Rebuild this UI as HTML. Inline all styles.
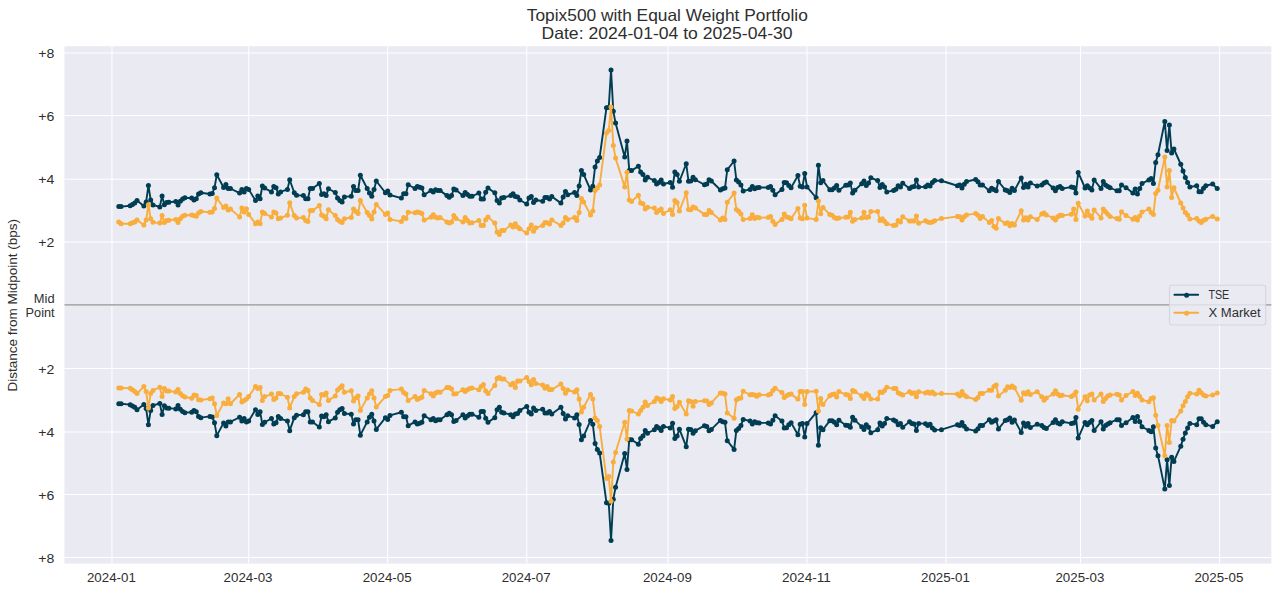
<!DOCTYPE html>
<html lang="en"><head><meta charset="utf-8"><title>Topix500 with Equal Weight Portfolio</title>
<style>html,body{margin:0;padding:0;background:#fff;overflow:hidden}svg{display:block}text{font-family:"Liberation Sans",sans-serif;fill:#2e2e2e}</style></head><body>
<svg width="1280" height="593" viewBox="0 0 1280 593">
<rect x="0" y="0" width="1280" height="593" fill="#ffffff"/>
<rect x="64.50" y="46.20" width="1206.80" height="517.40" fill="#eaeaf2"/>
<g stroke="#ffffff" stroke-width="1.05" fill="none">
<line x1="111.95" y1="46.20" x2="111.95" y2="563.60"/>
<line x1="248.68" y1="46.20" x2="248.68" y2="563.60"/>
<line x1="387.70" y1="46.20" x2="387.70" y2="563.60"/>
<line x1="526.71" y1="46.20" x2="526.71" y2="563.60"/>
<line x1="668.00" y1="46.20" x2="668.00" y2="563.60"/>
<line x1="807.02" y1="46.20" x2="807.02" y2="563.60"/>
<line x1="946.03" y1="46.20" x2="946.03" y2="563.60"/>
<line x1="1080.49" y1="46.20" x2="1080.49" y2="563.60"/>
<line x1="1219.50" y1="46.20" x2="1219.50" y2="563.60"/>
<line x1="64.50" y1="557.50" x2="1271.30" y2="557.50"/>
<line x1="64.50" y1="494.50" x2="1271.30" y2="494.50"/>
<line x1="64.50" y1="432.00" x2="1271.30" y2="432.00"/>
<line x1="64.50" y1="368.40" x2="1271.30" y2="368.40"/>
<line x1="64.50" y1="305.20" x2="1271.30" y2="305.20"/>
<line x1="64.50" y1="242.00" x2="1271.30" y2="242.00"/>
<line x1="64.50" y1="179.20" x2="1271.30" y2="179.20"/>
<line x1="64.50" y1="115.50" x2="1271.30" y2="115.50"/>
<line x1="64.50" y1="52.90" x2="1271.30" y2="52.90"/>
</g>
<line x1="64.50" y1="304.90" x2="1271.30" y2="304.90" stroke="#acacae" stroke-width="1.6"/>
<svg x="64.50" y="46.20" width="1206.80" height="517.40" viewBox="64.50 46.20 1206.80 517.40">
<path d="M118.79 206.62 L121.07 206.62 L130.18 205.75 L132.46 204.38 L134.74 203.12 L137.02 200.62 L143.85 205.88 L146.13 201.88 L148.41 185.62 L150.69 200.00 L152.97 205.00 L159.81 206.88 L162.09 196.00 L164.36 204.75 L166.64 202.50 L168.92 202.25 L175.76 201.50 L178.04 205.00 L180.32 201.25 L182.60 199.00 L184.88 197.75 L191.71 198.12 L193.99 200.00 L196.27 198.75 L198.55 194.00 L200.83 192.75 L209.94 194.00 L212.22 193.50 L214.50 187.75 L216.78 174.75 L223.62 187.50 L225.90 184.38 L228.17 188.50 L230.45 188.50 L239.57 193.12 L241.85 189.38 L244.13 191.88 L246.41 188.50 L248.68 189.38 L255.52 200.62 L257.80 196.00 L260.08 198.75 L262.36 186.00 L264.64 188.12 L271.47 191.88 L273.75 186.50 L276.03 187.75 L278.31 194.00 L280.59 191.88 L287.43 189.38 L289.70 179.75 L294.26 192.75 L296.54 195.25 L303.38 195.62 L305.66 198.75 L307.94 198.75 L310.22 188.50 L312.49 188.50 L319.33 183.50 L321.61 194.38 L323.89 193.75 L326.17 195.62 L328.45 188.75 L335.28 192.50 L337.56 198.12 L339.84 200.62 L342.12 201.88 L344.40 196.88 L351.24 196.25 L353.51 186.50 L355.79 190.62 L358.07 190.62 L360.35 175.25 L367.19 188.50 L369.47 193.12 L371.75 196.25 L374.02 189.38 L376.30 181.00 L385.42 192.75 L387.70 191.00 L389.98 195.00 L401.37 198.12 L403.65 193.75 L405.93 193.75 L408.21 184.75 L415.04 188.50 L417.32 186.50 L419.60 187.25 L421.88 188.12 L424.16 194.75 L431.00 190.62 L433.28 191.88 L435.56 189.75 L437.83 190.62 L440.11 190.62 L446.95 195.62 L449.23 197.25 L451.51 195.62 L453.79 189.00 L456.07 190.00 L462.90 195.62 L465.18 192.50 L467.46 194.38 L469.74 196.25 L472.02 196.25 L478.85 193.12 L481.13 199.00 L483.41 199.00 L485.69 192.25 L487.97 188.12 L494.81 192.75 L497.09 200.62 L499.36 203.12 L501.64 198.12 L503.92 197.50 L510.76 195.62 L513.04 193.75 L515.32 196.50 L517.60 196.88 L519.87 200.00 L526.71 204.00 L528.99 198.12 L531.27 196.50 L533.55 202.50 L535.83 200.00 L542.66 201.25 L544.94 197.50 L547.22 197.50 L549.50 199.00 L551.78 196.50 L560.90 203.12 L563.17 196.88 L565.45 191.50 L567.73 194.75 L574.57 192.50 L576.85 195.62 L579.13 186.00 L581.41 170.62 L583.68 174.38 L590.52 190.00 L592.80 186.25 L595.08 166.88 L597.36 161.00 L599.64 157.50 L606.47 107.75 L608.75 107.25 L611.03 70.00 L613.31 111.25 L615.59 123.12 L624.70 156.88 L626.98 141.00 L629.26 170.62 L631.54 170.62 L638.38 166.25 L640.66 171.88 L642.94 174.38 L645.21 180.00 L647.49 177.25 L654.33 180.62 L656.61 184.00 L658.89 182.50 L661.17 180.00 L663.45 184.00 L670.28 182.50 L672.56 187.25 L674.84 171.88 L677.12 174.38 L679.40 181.25 L686.24 163.75 L688.51 181.25 L690.79 181.00 L693.07 177.25 L695.35 179.75 L704.47 184.75 L706.75 184.00 L709.02 179.75 L711.30 181.00 L720.42 190.00 L722.70 188.75 L724.98 188.12 L727.26 169.75 L734.09 161.00 L736.37 180.00 L738.65 181.88 L740.93 185.00 L743.21 191.00 L750.04 189.38 L752.32 186.50 L754.60 188.75 L756.88 187.75 L759.16 187.50 L768.28 187.50 L770.55 186.50 L772.83 190.25 L775.11 194.75 L781.95 189.38 L784.23 182.50 L786.51 182.75 L788.79 185.62 L791.07 187.75 L797.90 175.62 L800.18 186.25 L802.46 186.88 L804.74 173.50 L807.02 186.88 L816.13 197.75 L818.41 165.25 L820.69 182.75 L822.97 180.62 L829.81 189.75 L832.09 189.75 L834.36 188.12 L836.64 185.62 L838.92 190.25 L845.76 185.25 L848.04 185.00 L850.32 183.12 L852.60 193.12 L854.87 190.25 L861.71 183.75 L863.99 181.00 L866.27 185.62 L868.55 183.12 L870.83 177.75 L877.66 180.62 L879.94 187.50 L882.22 184.38 L884.50 186.88 L886.78 191.88 L893.62 190.50 L895.89 189.25 L898.17 185.75 L900.45 187.00 L902.73 183.25 L909.57 188.62 L911.85 187.00 L914.13 186.50 L916.41 179.88 L918.68 187.00 L925.52 186.75 L927.80 184.88 L930.08 186.12 L932.36 182.38 L934.64 180.50 L941.47 180.75 L957.43 185.75 L959.70 184.88 L961.98 188.00 L964.26 184.25 L966.54 181.50 L975.66 179.50 L977.94 181.75 L980.21 184.88 L982.49 184.88 L989.33 190.75 L991.61 188.25 L993.89 189.50 L996.17 190.75 L998.45 181.50 L1005.28 189.88 L1007.56 190.75 L1009.84 192.38 L1012.12 188.25 L1014.40 190.50 L1021.23 178.00 L1023.51 187.38 L1025.79 184.25 L1028.07 187.00 L1030.35 183.00 L1037.19 186.12 L1041.75 184.88 L1044.02 183.00 L1046.30 182.00 L1053.14 188.00 L1055.42 190.75 L1057.70 187.38 L1059.98 186.50 L1062.26 188.62 L1071.37 187.00 L1073.65 187.38 L1075.93 193.00 L1078.21 172.38 L1085.04 188.00 L1087.32 185.75 L1089.60 188.00 L1091.88 189.88 L1094.16 179.88 L1101.00 188.62 L1103.28 181.50 L1105.55 184.88 L1107.83 186.50 L1110.11 187.75 L1116.95 190.75 L1119.23 190.75 L1121.51 184.88 L1126.06 187.75 L1132.90 193.00 L1135.18 189.00 L1137.46 194.00 L1139.74 188.62 L1142.02 183.62 L1148.85 179.88 L1151.13 178.62 L1153.41 183.62 L1155.69 162.38 L1157.97 154.75 L1164.81 121.50 L1167.09 150.62 L1169.36 125.00 L1171.64 153.12 L1173.92 149.00 L1180.76 164.25 L1183.04 171.12 L1185.32 177.38 L1187.60 182.38 L1189.87 187.00 L1196.71 185.75 L1198.99 191.75 L1201.27 191.75 L1203.55 188.25 L1205.83 185.75 L1212.66 184.00 L1217.22 188.62" fill="none" stroke="#003d52" stroke-width="1.9" stroke-linejoin="round" stroke-linecap="round"/>
<g fill="#003d52"><circle cx="118.79" cy="206.62" r="2.5"/><circle cx="121.07" cy="206.62" r="2.5"/><circle cx="130.18" cy="205.75" r="2.5"/><circle cx="132.46" cy="204.38" r="2.5"/><circle cx="134.74" cy="203.12" r="2.5"/><circle cx="137.02" cy="200.62" r="2.5"/><circle cx="143.85" cy="205.88" r="2.5"/><circle cx="146.13" cy="201.88" r="2.5"/><circle cx="148.41" cy="185.62" r="2.5"/><circle cx="150.69" cy="200.00" r="2.5"/><circle cx="152.97" cy="205.00" r="2.5"/><circle cx="159.81" cy="206.88" r="2.5"/><circle cx="162.09" cy="196.00" r="2.5"/><circle cx="164.36" cy="204.75" r="2.5"/><circle cx="166.64" cy="202.50" r="2.5"/><circle cx="168.92" cy="202.25" r="2.5"/><circle cx="175.76" cy="201.50" r="2.5"/><circle cx="178.04" cy="205.00" r="2.5"/><circle cx="180.32" cy="201.25" r="2.5"/><circle cx="182.60" cy="199.00" r="2.5"/><circle cx="184.88" cy="197.75" r="2.5"/><circle cx="191.71" cy="198.12" r="2.5"/><circle cx="193.99" cy="200.00" r="2.5"/><circle cx="196.27" cy="198.75" r="2.5"/><circle cx="198.55" cy="194.00" r="2.5"/><circle cx="200.83" cy="192.75" r="2.5"/><circle cx="209.94" cy="194.00" r="2.5"/><circle cx="212.22" cy="193.50" r="2.5"/><circle cx="214.50" cy="187.75" r="2.5"/><circle cx="216.78" cy="174.75" r="2.5"/><circle cx="223.62" cy="187.50" r="2.5"/><circle cx="225.90" cy="184.38" r="2.5"/><circle cx="228.17" cy="188.50" r="2.5"/><circle cx="230.45" cy="188.50" r="2.5"/><circle cx="239.57" cy="193.12" r="2.5"/><circle cx="241.85" cy="189.38" r="2.5"/><circle cx="244.13" cy="191.88" r="2.5"/><circle cx="246.41" cy="188.50" r="2.5"/><circle cx="248.68" cy="189.38" r="2.5"/><circle cx="255.52" cy="200.62" r="2.5"/><circle cx="257.80" cy="196.00" r="2.5"/><circle cx="260.08" cy="198.75" r="2.5"/><circle cx="262.36" cy="186.00" r="2.5"/><circle cx="264.64" cy="188.12" r="2.5"/><circle cx="271.47" cy="191.88" r="2.5"/><circle cx="273.75" cy="186.50" r="2.5"/><circle cx="276.03" cy="187.75" r="2.5"/><circle cx="278.31" cy="194.00" r="2.5"/><circle cx="280.59" cy="191.88" r="2.5"/><circle cx="287.43" cy="189.38" r="2.5"/><circle cx="289.70" cy="179.75" r="2.5"/><circle cx="294.26" cy="192.75" r="2.5"/><circle cx="296.54" cy="195.25" r="2.5"/><circle cx="303.38" cy="195.62" r="2.5"/><circle cx="305.66" cy="198.75" r="2.5"/><circle cx="307.94" cy="198.75" r="2.5"/><circle cx="310.22" cy="188.50" r="2.5"/><circle cx="312.49" cy="188.50" r="2.5"/><circle cx="319.33" cy="183.50" r="2.5"/><circle cx="321.61" cy="194.38" r="2.5"/><circle cx="323.89" cy="193.75" r="2.5"/><circle cx="326.17" cy="195.62" r="2.5"/><circle cx="328.45" cy="188.75" r="2.5"/><circle cx="335.28" cy="192.50" r="2.5"/><circle cx="337.56" cy="198.12" r="2.5"/><circle cx="339.84" cy="200.62" r="2.5"/><circle cx="342.12" cy="201.88" r="2.5"/><circle cx="344.40" cy="196.88" r="2.5"/><circle cx="351.24" cy="196.25" r="2.5"/><circle cx="353.51" cy="186.50" r="2.5"/><circle cx="355.79" cy="190.62" r="2.5"/><circle cx="358.07" cy="190.62" r="2.5"/><circle cx="360.35" cy="175.25" r="2.5"/><circle cx="367.19" cy="188.50" r="2.5"/><circle cx="369.47" cy="193.12" r="2.5"/><circle cx="371.75" cy="196.25" r="2.5"/><circle cx="374.02" cy="189.38" r="2.5"/><circle cx="376.30" cy="181.00" r="2.5"/><circle cx="385.42" cy="192.75" r="2.5"/><circle cx="387.70" cy="191.00" r="2.5"/><circle cx="389.98" cy="195.00" r="2.5"/><circle cx="401.37" cy="198.12" r="2.5"/><circle cx="403.65" cy="193.75" r="2.5"/><circle cx="405.93" cy="193.75" r="2.5"/><circle cx="408.21" cy="184.75" r="2.5"/><circle cx="415.04" cy="188.50" r="2.5"/><circle cx="417.32" cy="186.50" r="2.5"/><circle cx="419.60" cy="187.25" r="2.5"/><circle cx="421.88" cy="188.12" r="2.5"/><circle cx="424.16" cy="194.75" r="2.5"/><circle cx="431.00" cy="190.62" r="2.5"/><circle cx="433.28" cy="191.88" r="2.5"/><circle cx="435.56" cy="189.75" r="2.5"/><circle cx="437.83" cy="190.62" r="2.5"/><circle cx="440.11" cy="190.62" r="2.5"/><circle cx="446.95" cy="195.62" r="2.5"/><circle cx="449.23" cy="197.25" r="2.5"/><circle cx="451.51" cy="195.62" r="2.5"/><circle cx="453.79" cy="189.00" r="2.5"/><circle cx="456.07" cy="190.00" r="2.5"/><circle cx="462.90" cy="195.62" r="2.5"/><circle cx="465.18" cy="192.50" r="2.5"/><circle cx="467.46" cy="194.38" r="2.5"/><circle cx="469.74" cy="196.25" r="2.5"/><circle cx="472.02" cy="196.25" r="2.5"/><circle cx="478.85" cy="193.12" r="2.5"/><circle cx="481.13" cy="199.00" r="2.5"/><circle cx="483.41" cy="199.00" r="2.5"/><circle cx="485.69" cy="192.25" r="2.5"/><circle cx="487.97" cy="188.12" r="2.5"/><circle cx="494.81" cy="192.75" r="2.5"/><circle cx="497.09" cy="200.62" r="2.5"/><circle cx="499.36" cy="203.12" r="2.5"/><circle cx="501.64" cy="198.12" r="2.5"/><circle cx="503.92" cy="197.50" r="2.5"/><circle cx="510.76" cy="195.62" r="2.5"/><circle cx="513.04" cy="193.75" r="2.5"/><circle cx="515.32" cy="196.50" r="2.5"/><circle cx="517.60" cy="196.88" r="2.5"/><circle cx="519.87" cy="200.00" r="2.5"/><circle cx="526.71" cy="204.00" r="2.5"/><circle cx="528.99" cy="198.12" r="2.5"/><circle cx="531.27" cy="196.50" r="2.5"/><circle cx="533.55" cy="202.50" r="2.5"/><circle cx="535.83" cy="200.00" r="2.5"/><circle cx="542.66" cy="201.25" r="2.5"/><circle cx="544.94" cy="197.50" r="2.5"/><circle cx="547.22" cy="197.50" r="2.5"/><circle cx="549.50" cy="199.00" r="2.5"/><circle cx="551.78" cy="196.50" r="2.5"/><circle cx="560.90" cy="203.12" r="2.5"/><circle cx="563.17" cy="196.88" r="2.5"/><circle cx="565.45" cy="191.50" r="2.5"/><circle cx="567.73" cy="194.75" r="2.5"/><circle cx="574.57" cy="192.50" r="2.5"/><circle cx="576.85" cy="195.62" r="2.5"/><circle cx="579.13" cy="186.00" r="2.5"/><circle cx="581.41" cy="170.62" r="2.5"/><circle cx="583.68" cy="174.38" r="2.5"/><circle cx="590.52" cy="190.00" r="2.5"/><circle cx="592.80" cy="186.25" r="2.5"/><circle cx="595.08" cy="166.88" r="2.5"/><circle cx="597.36" cy="161.00" r="2.5"/><circle cx="599.64" cy="157.50" r="2.5"/><circle cx="606.47" cy="107.75" r="2.5"/><circle cx="608.75" cy="107.25" r="2.5"/><circle cx="611.03" cy="70.00" r="2.5"/><circle cx="613.31" cy="111.25" r="2.5"/><circle cx="615.59" cy="123.12" r="2.5"/><circle cx="624.70" cy="156.88" r="2.5"/><circle cx="626.98" cy="141.00" r="2.5"/><circle cx="629.26" cy="170.62" r="2.5"/><circle cx="631.54" cy="170.62" r="2.5"/><circle cx="638.38" cy="166.25" r="2.5"/><circle cx="640.66" cy="171.88" r="2.5"/><circle cx="642.94" cy="174.38" r="2.5"/><circle cx="645.21" cy="180.00" r="2.5"/><circle cx="647.49" cy="177.25" r="2.5"/><circle cx="654.33" cy="180.62" r="2.5"/><circle cx="656.61" cy="184.00" r="2.5"/><circle cx="658.89" cy="182.50" r="2.5"/><circle cx="661.17" cy="180.00" r="2.5"/><circle cx="663.45" cy="184.00" r="2.5"/><circle cx="670.28" cy="182.50" r="2.5"/><circle cx="672.56" cy="187.25" r="2.5"/><circle cx="674.84" cy="171.88" r="2.5"/><circle cx="677.12" cy="174.38" r="2.5"/><circle cx="679.40" cy="181.25" r="2.5"/><circle cx="686.24" cy="163.75" r="2.5"/><circle cx="688.51" cy="181.25" r="2.5"/><circle cx="690.79" cy="181.00" r="2.5"/><circle cx="693.07" cy="177.25" r="2.5"/><circle cx="695.35" cy="179.75" r="2.5"/><circle cx="704.47" cy="184.75" r="2.5"/><circle cx="706.75" cy="184.00" r="2.5"/><circle cx="709.02" cy="179.75" r="2.5"/><circle cx="711.30" cy="181.00" r="2.5"/><circle cx="720.42" cy="190.00" r="2.5"/><circle cx="722.70" cy="188.75" r="2.5"/><circle cx="724.98" cy="188.12" r="2.5"/><circle cx="727.26" cy="169.75" r="2.5"/><circle cx="734.09" cy="161.00" r="2.5"/><circle cx="736.37" cy="180.00" r="2.5"/><circle cx="738.65" cy="181.88" r="2.5"/><circle cx="740.93" cy="185.00" r="2.5"/><circle cx="743.21" cy="191.00" r="2.5"/><circle cx="750.04" cy="189.38" r="2.5"/><circle cx="752.32" cy="186.50" r="2.5"/><circle cx="754.60" cy="188.75" r="2.5"/><circle cx="756.88" cy="187.75" r="2.5"/><circle cx="759.16" cy="187.50" r="2.5"/><circle cx="768.28" cy="187.50" r="2.5"/><circle cx="770.55" cy="186.50" r="2.5"/><circle cx="772.83" cy="190.25" r="2.5"/><circle cx="775.11" cy="194.75" r="2.5"/><circle cx="781.95" cy="189.38" r="2.5"/><circle cx="784.23" cy="182.50" r="2.5"/><circle cx="786.51" cy="182.75" r="2.5"/><circle cx="788.79" cy="185.62" r="2.5"/><circle cx="791.07" cy="187.75" r="2.5"/><circle cx="797.90" cy="175.62" r="2.5"/><circle cx="800.18" cy="186.25" r="2.5"/><circle cx="802.46" cy="186.88" r="2.5"/><circle cx="804.74" cy="173.50" r="2.5"/><circle cx="807.02" cy="186.88" r="2.5"/><circle cx="816.13" cy="197.75" r="2.5"/><circle cx="818.41" cy="165.25" r="2.5"/><circle cx="820.69" cy="182.75" r="2.5"/><circle cx="822.97" cy="180.62" r="2.5"/><circle cx="829.81" cy="189.75" r="2.5"/><circle cx="832.09" cy="189.75" r="2.5"/><circle cx="834.36" cy="188.12" r="2.5"/><circle cx="836.64" cy="185.62" r="2.5"/><circle cx="838.92" cy="190.25" r="2.5"/><circle cx="845.76" cy="185.25" r="2.5"/><circle cx="848.04" cy="185.00" r="2.5"/><circle cx="850.32" cy="183.12" r="2.5"/><circle cx="852.60" cy="193.12" r="2.5"/><circle cx="854.87" cy="190.25" r="2.5"/><circle cx="861.71" cy="183.75" r="2.5"/><circle cx="863.99" cy="181.00" r="2.5"/><circle cx="866.27" cy="185.62" r="2.5"/><circle cx="868.55" cy="183.12" r="2.5"/><circle cx="870.83" cy="177.75" r="2.5"/><circle cx="877.66" cy="180.62" r="2.5"/><circle cx="879.94" cy="187.50" r="2.5"/><circle cx="882.22" cy="184.38" r="2.5"/><circle cx="884.50" cy="186.88" r="2.5"/><circle cx="886.78" cy="191.88" r="2.5"/><circle cx="893.62" cy="190.50" r="2.5"/><circle cx="895.89" cy="189.25" r="2.5"/><circle cx="898.17" cy="185.75" r="2.5"/><circle cx="900.45" cy="187.00" r="2.5"/><circle cx="902.73" cy="183.25" r="2.5"/><circle cx="909.57" cy="188.62" r="2.5"/><circle cx="911.85" cy="187.00" r="2.5"/><circle cx="914.13" cy="186.50" r="2.5"/><circle cx="916.41" cy="179.88" r="2.5"/><circle cx="918.68" cy="187.00" r="2.5"/><circle cx="925.52" cy="186.75" r="2.5"/><circle cx="927.80" cy="184.88" r="2.5"/><circle cx="930.08" cy="186.12" r="2.5"/><circle cx="932.36" cy="182.38" r="2.5"/><circle cx="934.64" cy="180.50" r="2.5"/><circle cx="941.47" cy="180.75" r="2.5"/><circle cx="957.43" cy="185.75" r="2.5"/><circle cx="959.70" cy="184.88" r="2.5"/><circle cx="961.98" cy="188.00" r="2.5"/><circle cx="964.26" cy="184.25" r="2.5"/><circle cx="966.54" cy="181.50" r="2.5"/><circle cx="975.66" cy="179.50" r="2.5"/><circle cx="977.94" cy="181.75" r="2.5"/><circle cx="980.21" cy="184.88" r="2.5"/><circle cx="982.49" cy="184.88" r="2.5"/><circle cx="989.33" cy="190.75" r="2.5"/><circle cx="991.61" cy="188.25" r="2.5"/><circle cx="993.89" cy="189.50" r="2.5"/><circle cx="996.17" cy="190.75" r="2.5"/><circle cx="998.45" cy="181.50" r="2.5"/><circle cx="1005.28" cy="189.88" r="2.5"/><circle cx="1007.56" cy="190.75" r="2.5"/><circle cx="1009.84" cy="192.38" r="2.5"/><circle cx="1012.12" cy="188.25" r="2.5"/><circle cx="1014.40" cy="190.50" r="2.5"/><circle cx="1021.23" cy="178.00" r="2.5"/><circle cx="1023.51" cy="187.38" r="2.5"/><circle cx="1025.79" cy="184.25" r="2.5"/><circle cx="1028.07" cy="187.00" r="2.5"/><circle cx="1030.35" cy="183.00" r="2.5"/><circle cx="1037.19" cy="186.12" r="2.5"/><circle cx="1041.75" cy="184.88" r="2.5"/><circle cx="1044.02" cy="183.00" r="2.5"/><circle cx="1046.30" cy="182.00" r="2.5"/><circle cx="1053.14" cy="188.00" r="2.5"/><circle cx="1055.42" cy="190.75" r="2.5"/><circle cx="1057.70" cy="187.38" r="2.5"/><circle cx="1059.98" cy="186.50" r="2.5"/><circle cx="1062.26" cy="188.62" r="2.5"/><circle cx="1071.37" cy="187.00" r="2.5"/><circle cx="1073.65" cy="187.38" r="2.5"/><circle cx="1075.93" cy="193.00" r="2.5"/><circle cx="1078.21" cy="172.38" r="2.5"/><circle cx="1085.04" cy="188.00" r="2.5"/><circle cx="1087.32" cy="185.75" r="2.5"/><circle cx="1089.60" cy="188.00" r="2.5"/><circle cx="1091.88" cy="189.88" r="2.5"/><circle cx="1094.16" cy="179.88" r="2.5"/><circle cx="1101.00" cy="188.62" r="2.5"/><circle cx="1103.28" cy="181.50" r="2.5"/><circle cx="1105.55" cy="184.88" r="2.5"/><circle cx="1107.83" cy="186.50" r="2.5"/><circle cx="1110.11" cy="187.75" r="2.5"/><circle cx="1116.95" cy="190.75" r="2.5"/><circle cx="1119.23" cy="190.75" r="2.5"/><circle cx="1121.51" cy="184.88" r="2.5"/><circle cx="1126.06" cy="187.75" r="2.5"/><circle cx="1132.90" cy="193.00" r="2.5"/><circle cx="1135.18" cy="189.00" r="2.5"/><circle cx="1137.46" cy="194.00" r="2.5"/><circle cx="1139.74" cy="188.62" r="2.5"/><circle cx="1142.02" cy="183.62" r="2.5"/><circle cx="1148.85" cy="179.88" r="2.5"/><circle cx="1151.13" cy="178.62" r="2.5"/><circle cx="1153.41" cy="183.62" r="2.5"/><circle cx="1155.69" cy="162.38" r="2.5"/><circle cx="1157.97" cy="154.75" r="2.5"/><circle cx="1164.81" cy="121.50" r="2.5"/><circle cx="1167.09" cy="150.62" r="2.5"/><circle cx="1169.36" cy="125.00" r="2.5"/><circle cx="1171.64" cy="153.12" r="2.5"/><circle cx="1173.92" cy="149.00" r="2.5"/><circle cx="1180.76" cy="164.25" r="2.5"/><circle cx="1183.04" cy="171.12" r="2.5"/><circle cx="1185.32" cy="177.38" r="2.5"/><circle cx="1187.60" cy="182.38" r="2.5"/><circle cx="1189.87" cy="187.00" r="2.5"/><circle cx="1196.71" cy="185.75" r="2.5"/><circle cx="1198.99" cy="191.75" r="2.5"/><circle cx="1201.27" cy="191.75" r="2.5"/><circle cx="1203.55" cy="188.25" r="2.5"/><circle cx="1205.83" cy="185.75" r="2.5"/><circle cx="1212.66" cy="184.00" r="2.5"/><circle cx="1217.22" cy="188.62" r="2.5"/></g>
<path d="M118.79 221.88 L121.07 223.75 L130.18 223.75 L132.46 222.75 L134.74 221.88 L137.02 220.00 L143.85 225.00 L146.13 220.00 L148.41 204.75 L150.69 218.75 L152.97 222.25 L159.81 223.12 L162.09 215.62 L164.36 222.50 L166.64 220.62 L168.92 220.25 L175.76 219.38 L178.04 222.50 L180.32 218.75 L182.60 216.25 L184.88 215.25 L191.71 215.00 L193.99 215.62 L196.27 216.25 L198.55 213.12 L200.83 211.50 L209.94 212.25 L212.22 211.88 L214.50 208.50 L216.78 198.12 L223.62 207.50 L225.90 206.00 L228.17 210.00 L230.45 209.00 L239.57 216.88 L241.85 208.12 L244.13 211.88 L246.41 208.75 L248.68 214.38 L255.52 223.75 L257.80 221.88 L260.08 223.75 L262.36 211.88 L264.64 213.50 L271.47 216.88 L273.75 211.88 L276.03 213.12 L278.31 218.75 L280.59 218.12 L287.43 215.25 L289.70 202.75 L294.26 215.62 L296.54 218.12 L303.38 217.50 L305.66 220.62 L307.94 221.50 L310.22 210.62 L312.49 210.62 L319.33 205.62 L321.61 215.00 L323.89 216.25 L326.17 218.75 L328.45 209.75 L335.28 215.62 L337.56 219.38 L339.84 221.25 L342.12 222.50 L344.40 218.75 L351.24 217.50 L353.51 209.00 L355.79 211.50 L358.07 213.50 L360.35 200.62 L367.19 212.50 L369.47 215.62 L371.75 219.00 L374.02 211.88 L376.30 204.38 L385.42 214.38 L387.70 213.12 L389.98 219.38 L401.37 221.50 L403.65 217.50 L405.93 218.50 L408.21 212.25 L415.04 212.75 L417.32 211.88 L419.60 212.50 L421.88 213.50 L424.16 220.00 L431.00 217.25 L433.28 214.75 L435.56 217.25 L437.83 218.12 L440.11 217.50 L446.95 221.88 L449.23 223.12 L451.51 221.88 L453.79 215.62 L456.07 218.50 L462.90 221.88 L465.18 217.50 L467.46 220.62 L469.74 223.12 L472.02 222.75 L478.85 220.62 L481.13 225.62 L483.41 225.62 L485.69 219.75 L487.97 216.88 L494.81 223.12 L497.09 231.88 L499.36 234.38 L501.64 230.62 L503.92 230.62 L510.76 225.00 L513.04 226.88 L515.32 223.75 L517.60 226.88 L519.87 228.75 L526.71 233.12 L528.99 228.75 L531.27 225.00 L533.55 231.25 L535.83 227.75 L542.66 225.62 L544.94 222.50 L547.22 222.75 L549.50 224.00 L551.78 220.00 L560.90 225.62 L563.17 223.12 L565.45 217.50 L567.73 219.38 L574.57 217.50 L576.85 220.62 L579.13 212.50 L581.41 198.50 L583.68 201.88 L590.52 215.00 L592.80 211.00 L595.08 190.62 L597.36 188.12 L599.64 185.00 L606.47 133.12 L608.75 130.62 L611.03 106.88 L613.31 145.62 L615.59 158.12 L624.70 186.88 L626.98 172.25 L629.26 200.00 L631.54 201.50 L638.38 195.25 L640.66 203.12 L642.94 203.75 L645.21 209.00 L647.49 207.25 L654.33 208.12 L656.61 212.50 L658.89 210.62 L661.17 209.00 L663.45 213.50 L670.28 209.75 L672.56 214.38 L674.84 200.62 L677.12 202.50 L679.40 211.00 L686.24 192.75 L688.51 209.38 L690.79 209.75 L693.07 206.88 L695.35 208.12 L704.47 214.38 L706.75 214.38 L709.02 210.62 L711.30 212.50 L720.42 220.00 L722.70 218.12 L724.98 219.38 L727.26 202.25 L734.09 193.12 L736.37 209.38 L738.65 211.25 L740.93 214.00 L743.21 219.38 L750.04 218.50 L752.32 214.75 L754.60 218.50 L756.88 217.25 L759.16 217.75 L768.28 217.50 L770.55 216.50 L772.83 221.25 L775.11 224.38 L781.95 219.38 L784.23 214.00 L786.51 216.88 L788.79 217.50 L791.07 218.75 L797.90 208.50 L800.18 218.12 L802.46 218.75 L804.74 205.25 L807.02 218.12 L816.13 219.38 L818.41 201.00 L820.69 213.75 L822.97 207.50 L829.81 214.38 L832.09 215.25 L834.36 217.50 L836.64 218.50 L838.92 218.12 L845.76 217.25 L848.04 216.88 L850.32 212.25 L852.60 221.25 L854.87 219.38 L861.71 218.12 L863.99 212.25 L866.27 217.50 L868.55 216.88 L870.83 211.50 L877.66 211.50 L879.94 220.62 L882.22 218.75 L884.50 221.25 L886.78 223.75 L893.62 225.50 L895.89 224.88 L898.17 220.50 L900.45 222.00 L902.73 216.75 L909.57 221.12 L911.85 221.12 L914.13 221.12 L916.41 216.12 L918.68 223.25 L925.52 220.75 L927.80 222.00 L930.08 222.38 L932.36 222.00 L934.64 220.75 L941.47 218.62 L957.43 216.50 L959.70 216.75 L961.98 219.88 L964.26 216.75 L966.54 214.88 L975.66 213.62 L977.94 215.25 L980.21 218.62 L982.49 216.50 L989.33 222.38 L991.61 220.50 L993.89 226.50 L996.17 228.25 L998.45 218.62 L1005.28 223.62 L1007.56 222.75 L1009.84 225.75 L1012.12 223.62 L1014.40 224.88 L1021.23 210.75 L1023.51 219.88 L1025.79 217.75 L1028.07 219.88 L1030.35 216.75 L1037.19 219.50 L1041.75 214.00 L1044.02 213.00 L1046.30 214.88 L1053.14 218.00 L1055.42 219.88 L1057.70 216.75 L1059.98 215.25 L1062.26 215.50 L1071.37 214.25 L1073.65 209.00 L1075.93 219.50 L1078.21 203.25 L1085.04 216.12 L1087.32 211.12 L1089.60 215.50 L1091.88 218.25 L1094.16 209.88 L1101.00 218.00 L1103.28 209.00 L1105.55 211.75 L1107.83 214.25 L1110.11 216.50 L1116.95 218.62 L1119.23 219.25 L1121.51 211.75 L1126.06 215.50 L1132.90 219.25 L1135.18 217.38 L1137.46 219.88 L1139.74 216.12 L1142.02 212.00 L1148.85 209.00 L1151.13 212.38 L1153.41 214.50 L1155.69 193.62 L1157.97 190.25 L1164.81 156.88 L1167.09 187.00 L1169.36 170.50 L1171.64 197.38 L1173.92 187.75 L1180.76 203.00 L1183.04 208.00 L1185.32 212.38 L1187.60 214.88 L1189.87 219.00 L1196.71 218.62 L1198.99 221.12 L1201.27 222.38 L1203.55 220.25 L1205.83 219.25 L1212.66 216.50 L1217.22 219.00" fill="none" stroke="#f8ad3d" stroke-width="1.9" stroke-linejoin="round" stroke-linecap="round"/>
<g fill="#f8ad3d"><circle cx="118.79" cy="221.88" r="2.5"/><circle cx="121.07" cy="223.75" r="2.5"/><circle cx="130.18" cy="223.75" r="2.5"/><circle cx="132.46" cy="222.75" r="2.5"/><circle cx="134.74" cy="221.88" r="2.5"/><circle cx="137.02" cy="220.00" r="2.5"/><circle cx="143.85" cy="225.00" r="2.5"/><circle cx="146.13" cy="220.00" r="2.5"/><circle cx="148.41" cy="204.75" r="2.5"/><circle cx="150.69" cy="218.75" r="2.5"/><circle cx="152.97" cy="222.25" r="2.5"/><circle cx="159.81" cy="223.12" r="2.5"/><circle cx="162.09" cy="215.62" r="2.5"/><circle cx="164.36" cy="222.50" r="2.5"/><circle cx="166.64" cy="220.62" r="2.5"/><circle cx="168.92" cy="220.25" r="2.5"/><circle cx="175.76" cy="219.38" r="2.5"/><circle cx="178.04" cy="222.50" r="2.5"/><circle cx="180.32" cy="218.75" r="2.5"/><circle cx="182.60" cy="216.25" r="2.5"/><circle cx="184.88" cy="215.25" r="2.5"/><circle cx="191.71" cy="215.00" r="2.5"/><circle cx="193.99" cy="215.62" r="2.5"/><circle cx="196.27" cy="216.25" r="2.5"/><circle cx="198.55" cy="213.12" r="2.5"/><circle cx="200.83" cy="211.50" r="2.5"/><circle cx="209.94" cy="212.25" r="2.5"/><circle cx="212.22" cy="211.88" r="2.5"/><circle cx="214.50" cy="208.50" r="2.5"/><circle cx="216.78" cy="198.12" r="2.5"/><circle cx="223.62" cy="207.50" r="2.5"/><circle cx="225.90" cy="206.00" r="2.5"/><circle cx="228.17" cy="210.00" r="2.5"/><circle cx="230.45" cy="209.00" r="2.5"/><circle cx="239.57" cy="216.88" r="2.5"/><circle cx="241.85" cy="208.12" r="2.5"/><circle cx="244.13" cy="211.88" r="2.5"/><circle cx="246.41" cy="208.75" r="2.5"/><circle cx="248.68" cy="214.38" r="2.5"/><circle cx="255.52" cy="223.75" r="2.5"/><circle cx="257.80" cy="221.88" r="2.5"/><circle cx="260.08" cy="223.75" r="2.5"/><circle cx="262.36" cy="211.88" r="2.5"/><circle cx="264.64" cy="213.50" r="2.5"/><circle cx="271.47" cy="216.88" r="2.5"/><circle cx="273.75" cy="211.88" r="2.5"/><circle cx="276.03" cy="213.12" r="2.5"/><circle cx="278.31" cy="218.75" r="2.5"/><circle cx="280.59" cy="218.12" r="2.5"/><circle cx="287.43" cy="215.25" r="2.5"/><circle cx="289.70" cy="202.75" r="2.5"/><circle cx="294.26" cy="215.62" r="2.5"/><circle cx="296.54" cy="218.12" r="2.5"/><circle cx="303.38" cy="217.50" r="2.5"/><circle cx="305.66" cy="220.62" r="2.5"/><circle cx="307.94" cy="221.50" r="2.5"/><circle cx="310.22" cy="210.62" r="2.5"/><circle cx="312.49" cy="210.62" r="2.5"/><circle cx="319.33" cy="205.62" r="2.5"/><circle cx="321.61" cy="215.00" r="2.5"/><circle cx="323.89" cy="216.25" r="2.5"/><circle cx="326.17" cy="218.75" r="2.5"/><circle cx="328.45" cy="209.75" r="2.5"/><circle cx="335.28" cy="215.62" r="2.5"/><circle cx="337.56" cy="219.38" r="2.5"/><circle cx="339.84" cy="221.25" r="2.5"/><circle cx="342.12" cy="222.50" r="2.5"/><circle cx="344.40" cy="218.75" r="2.5"/><circle cx="351.24" cy="217.50" r="2.5"/><circle cx="353.51" cy="209.00" r="2.5"/><circle cx="355.79" cy="211.50" r="2.5"/><circle cx="358.07" cy="213.50" r="2.5"/><circle cx="360.35" cy="200.62" r="2.5"/><circle cx="367.19" cy="212.50" r="2.5"/><circle cx="369.47" cy="215.62" r="2.5"/><circle cx="371.75" cy="219.00" r="2.5"/><circle cx="374.02" cy="211.88" r="2.5"/><circle cx="376.30" cy="204.38" r="2.5"/><circle cx="385.42" cy="214.38" r="2.5"/><circle cx="387.70" cy="213.12" r="2.5"/><circle cx="389.98" cy="219.38" r="2.5"/><circle cx="401.37" cy="221.50" r="2.5"/><circle cx="403.65" cy="217.50" r="2.5"/><circle cx="405.93" cy="218.50" r="2.5"/><circle cx="408.21" cy="212.25" r="2.5"/><circle cx="415.04" cy="212.75" r="2.5"/><circle cx="417.32" cy="211.88" r="2.5"/><circle cx="419.60" cy="212.50" r="2.5"/><circle cx="421.88" cy="213.50" r="2.5"/><circle cx="424.16" cy="220.00" r="2.5"/><circle cx="431.00" cy="217.25" r="2.5"/><circle cx="433.28" cy="214.75" r="2.5"/><circle cx="435.56" cy="217.25" r="2.5"/><circle cx="437.83" cy="218.12" r="2.5"/><circle cx="440.11" cy="217.50" r="2.5"/><circle cx="446.95" cy="221.88" r="2.5"/><circle cx="449.23" cy="223.12" r="2.5"/><circle cx="451.51" cy="221.88" r="2.5"/><circle cx="453.79" cy="215.62" r="2.5"/><circle cx="456.07" cy="218.50" r="2.5"/><circle cx="462.90" cy="221.88" r="2.5"/><circle cx="465.18" cy="217.50" r="2.5"/><circle cx="467.46" cy="220.62" r="2.5"/><circle cx="469.74" cy="223.12" r="2.5"/><circle cx="472.02" cy="222.75" r="2.5"/><circle cx="478.85" cy="220.62" r="2.5"/><circle cx="481.13" cy="225.62" r="2.5"/><circle cx="483.41" cy="225.62" r="2.5"/><circle cx="485.69" cy="219.75" r="2.5"/><circle cx="487.97" cy="216.88" r="2.5"/><circle cx="494.81" cy="223.12" r="2.5"/><circle cx="497.09" cy="231.88" r="2.5"/><circle cx="499.36" cy="234.38" r="2.5"/><circle cx="501.64" cy="230.62" r="2.5"/><circle cx="503.92" cy="230.62" r="2.5"/><circle cx="510.76" cy="225.00" r="2.5"/><circle cx="513.04" cy="226.88" r="2.5"/><circle cx="515.32" cy="223.75" r="2.5"/><circle cx="517.60" cy="226.88" r="2.5"/><circle cx="519.87" cy="228.75" r="2.5"/><circle cx="526.71" cy="233.12" r="2.5"/><circle cx="528.99" cy="228.75" r="2.5"/><circle cx="531.27" cy="225.00" r="2.5"/><circle cx="533.55" cy="231.25" r="2.5"/><circle cx="535.83" cy="227.75" r="2.5"/><circle cx="542.66" cy="225.62" r="2.5"/><circle cx="544.94" cy="222.50" r="2.5"/><circle cx="547.22" cy="222.75" r="2.5"/><circle cx="549.50" cy="224.00" r="2.5"/><circle cx="551.78" cy="220.00" r="2.5"/><circle cx="560.90" cy="225.62" r="2.5"/><circle cx="563.17" cy="223.12" r="2.5"/><circle cx="565.45" cy="217.50" r="2.5"/><circle cx="567.73" cy="219.38" r="2.5"/><circle cx="574.57" cy="217.50" r="2.5"/><circle cx="576.85" cy="220.62" r="2.5"/><circle cx="579.13" cy="212.50" r="2.5"/><circle cx="581.41" cy="198.50" r="2.5"/><circle cx="583.68" cy="201.88" r="2.5"/><circle cx="590.52" cy="215.00" r="2.5"/><circle cx="592.80" cy="211.00" r="2.5"/><circle cx="595.08" cy="190.62" r="2.5"/><circle cx="597.36" cy="188.12" r="2.5"/><circle cx="599.64" cy="185.00" r="2.5"/><circle cx="606.47" cy="133.12" r="2.5"/><circle cx="608.75" cy="130.62" r="2.5"/><circle cx="611.03" cy="106.88" r="2.5"/><circle cx="613.31" cy="145.62" r="2.5"/><circle cx="615.59" cy="158.12" r="2.5"/><circle cx="624.70" cy="186.88" r="2.5"/><circle cx="626.98" cy="172.25" r="2.5"/><circle cx="629.26" cy="200.00" r="2.5"/><circle cx="631.54" cy="201.50" r="2.5"/><circle cx="638.38" cy="195.25" r="2.5"/><circle cx="640.66" cy="203.12" r="2.5"/><circle cx="642.94" cy="203.75" r="2.5"/><circle cx="645.21" cy="209.00" r="2.5"/><circle cx="647.49" cy="207.25" r="2.5"/><circle cx="654.33" cy="208.12" r="2.5"/><circle cx="656.61" cy="212.50" r="2.5"/><circle cx="658.89" cy="210.62" r="2.5"/><circle cx="661.17" cy="209.00" r="2.5"/><circle cx="663.45" cy="213.50" r="2.5"/><circle cx="670.28" cy="209.75" r="2.5"/><circle cx="672.56" cy="214.38" r="2.5"/><circle cx="674.84" cy="200.62" r="2.5"/><circle cx="677.12" cy="202.50" r="2.5"/><circle cx="679.40" cy="211.00" r="2.5"/><circle cx="686.24" cy="192.75" r="2.5"/><circle cx="688.51" cy="209.38" r="2.5"/><circle cx="690.79" cy="209.75" r="2.5"/><circle cx="693.07" cy="206.88" r="2.5"/><circle cx="695.35" cy="208.12" r="2.5"/><circle cx="704.47" cy="214.38" r="2.5"/><circle cx="706.75" cy="214.38" r="2.5"/><circle cx="709.02" cy="210.62" r="2.5"/><circle cx="711.30" cy="212.50" r="2.5"/><circle cx="720.42" cy="220.00" r="2.5"/><circle cx="722.70" cy="218.12" r="2.5"/><circle cx="724.98" cy="219.38" r="2.5"/><circle cx="727.26" cy="202.25" r="2.5"/><circle cx="734.09" cy="193.12" r="2.5"/><circle cx="736.37" cy="209.38" r="2.5"/><circle cx="738.65" cy="211.25" r="2.5"/><circle cx="740.93" cy="214.00" r="2.5"/><circle cx="743.21" cy="219.38" r="2.5"/><circle cx="750.04" cy="218.50" r="2.5"/><circle cx="752.32" cy="214.75" r="2.5"/><circle cx="754.60" cy="218.50" r="2.5"/><circle cx="756.88" cy="217.25" r="2.5"/><circle cx="759.16" cy="217.75" r="2.5"/><circle cx="768.28" cy="217.50" r="2.5"/><circle cx="770.55" cy="216.50" r="2.5"/><circle cx="772.83" cy="221.25" r="2.5"/><circle cx="775.11" cy="224.38" r="2.5"/><circle cx="781.95" cy="219.38" r="2.5"/><circle cx="784.23" cy="214.00" r="2.5"/><circle cx="786.51" cy="216.88" r="2.5"/><circle cx="788.79" cy="217.50" r="2.5"/><circle cx="791.07" cy="218.75" r="2.5"/><circle cx="797.90" cy="208.50" r="2.5"/><circle cx="800.18" cy="218.12" r="2.5"/><circle cx="802.46" cy="218.75" r="2.5"/><circle cx="804.74" cy="205.25" r="2.5"/><circle cx="807.02" cy="218.12" r="2.5"/><circle cx="816.13" cy="219.38" r="2.5"/><circle cx="818.41" cy="201.00" r="2.5"/><circle cx="820.69" cy="213.75" r="2.5"/><circle cx="822.97" cy="207.50" r="2.5"/><circle cx="829.81" cy="214.38" r="2.5"/><circle cx="832.09" cy="215.25" r="2.5"/><circle cx="834.36" cy="217.50" r="2.5"/><circle cx="836.64" cy="218.50" r="2.5"/><circle cx="838.92" cy="218.12" r="2.5"/><circle cx="845.76" cy="217.25" r="2.5"/><circle cx="848.04" cy="216.88" r="2.5"/><circle cx="850.32" cy="212.25" r="2.5"/><circle cx="852.60" cy="221.25" r="2.5"/><circle cx="854.87" cy="219.38" r="2.5"/><circle cx="861.71" cy="218.12" r="2.5"/><circle cx="863.99" cy="212.25" r="2.5"/><circle cx="866.27" cy="217.50" r="2.5"/><circle cx="868.55" cy="216.88" r="2.5"/><circle cx="870.83" cy="211.50" r="2.5"/><circle cx="877.66" cy="211.50" r="2.5"/><circle cx="879.94" cy="220.62" r="2.5"/><circle cx="882.22" cy="218.75" r="2.5"/><circle cx="884.50" cy="221.25" r="2.5"/><circle cx="886.78" cy="223.75" r="2.5"/><circle cx="893.62" cy="225.50" r="2.5"/><circle cx="895.89" cy="224.88" r="2.5"/><circle cx="898.17" cy="220.50" r="2.5"/><circle cx="900.45" cy="222.00" r="2.5"/><circle cx="902.73" cy="216.75" r="2.5"/><circle cx="909.57" cy="221.12" r="2.5"/><circle cx="911.85" cy="221.12" r="2.5"/><circle cx="914.13" cy="221.12" r="2.5"/><circle cx="916.41" cy="216.12" r="2.5"/><circle cx="918.68" cy="223.25" r="2.5"/><circle cx="925.52" cy="220.75" r="2.5"/><circle cx="927.80" cy="222.00" r="2.5"/><circle cx="930.08" cy="222.38" r="2.5"/><circle cx="932.36" cy="222.00" r="2.5"/><circle cx="934.64" cy="220.75" r="2.5"/><circle cx="941.47" cy="218.62" r="2.5"/><circle cx="957.43" cy="216.50" r="2.5"/><circle cx="959.70" cy="216.75" r="2.5"/><circle cx="961.98" cy="219.88" r="2.5"/><circle cx="964.26" cy="216.75" r="2.5"/><circle cx="966.54" cy="214.88" r="2.5"/><circle cx="975.66" cy="213.62" r="2.5"/><circle cx="977.94" cy="215.25" r="2.5"/><circle cx="980.21" cy="218.62" r="2.5"/><circle cx="982.49" cy="216.50" r="2.5"/><circle cx="989.33" cy="222.38" r="2.5"/><circle cx="991.61" cy="220.50" r="2.5"/><circle cx="993.89" cy="226.50" r="2.5"/><circle cx="996.17" cy="228.25" r="2.5"/><circle cx="998.45" cy="218.62" r="2.5"/><circle cx="1005.28" cy="223.62" r="2.5"/><circle cx="1007.56" cy="222.75" r="2.5"/><circle cx="1009.84" cy="225.75" r="2.5"/><circle cx="1012.12" cy="223.62" r="2.5"/><circle cx="1014.40" cy="224.88" r="2.5"/><circle cx="1021.23" cy="210.75" r="2.5"/><circle cx="1023.51" cy="219.88" r="2.5"/><circle cx="1025.79" cy="217.75" r="2.5"/><circle cx="1028.07" cy="219.88" r="2.5"/><circle cx="1030.35" cy="216.75" r="2.5"/><circle cx="1037.19" cy="219.50" r="2.5"/><circle cx="1041.75" cy="214.00" r="2.5"/><circle cx="1044.02" cy="213.00" r="2.5"/><circle cx="1046.30" cy="214.88" r="2.5"/><circle cx="1053.14" cy="218.00" r="2.5"/><circle cx="1055.42" cy="219.88" r="2.5"/><circle cx="1057.70" cy="216.75" r="2.5"/><circle cx="1059.98" cy="215.25" r="2.5"/><circle cx="1062.26" cy="215.50" r="2.5"/><circle cx="1071.37" cy="214.25" r="2.5"/><circle cx="1073.65" cy="209.00" r="2.5"/><circle cx="1075.93" cy="219.50" r="2.5"/><circle cx="1078.21" cy="203.25" r="2.5"/><circle cx="1085.04" cy="216.12" r="2.5"/><circle cx="1087.32" cy="211.12" r="2.5"/><circle cx="1089.60" cy="215.50" r="2.5"/><circle cx="1091.88" cy="218.25" r="2.5"/><circle cx="1094.16" cy="209.88" r="2.5"/><circle cx="1101.00" cy="218.00" r="2.5"/><circle cx="1103.28" cy="209.00" r="2.5"/><circle cx="1105.55" cy="211.75" r="2.5"/><circle cx="1107.83" cy="214.25" r="2.5"/><circle cx="1110.11" cy="216.50" r="2.5"/><circle cx="1116.95" cy="218.62" r="2.5"/><circle cx="1119.23" cy="219.25" r="2.5"/><circle cx="1121.51" cy="211.75" r="2.5"/><circle cx="1126.06" cy="215.50" r="2.5"/><circle cx="1132.90" cy="219.25" r="2.5"/><circle cx="1135.18" cy="217.38" r="2.5"/><circle cx="1137.46" cy="219.88" r="2.5"/><circle cx="1139.74" cy="216.12" r="2.5"/><circle cx="1142.02" cy="212.00" r="2.5"/><circle cx="1148.85" cy="209.00" r="2.5"/><circle cx="1151.13" cy="212.38" r="2.5"/><circle cx="1153.41" cy="214.50" r="2.5"/><circle cx="1155.69" cy="193.62" r="2.5"/><circle cx="1157.97" cy="190.25" r="2.5"/><circle cx="1164.81" cy="156.88" r="2.5"/><circle cx="1167.09" cy="187.00" r="2.5"/><circle cx="1169.36" cy="170.50" r="2.5"/><circle cx="1171.64" cy="197.38" r="2.5"/><circle cx="1173.92" cy="187.75" r="2.5"/><circle cx="1180.76" cy="203.00" r="2.5"/><circle cx="1183.04" cy="208.00" r="2.5"/><circle cx="1185.32" cy="212.38" r="2.5"/><circle cx="1187.60" cy="214.88" r="2.5"/><circle cx="1189.87" cy="219.00" r="2.5"/><circle cx="1196.71" cy="218.62" r="2.5"/><circle cx="1198.99" cy="221.12" r="2.5"/><circle cx="1201.27" cy="222.38" r="2.5"/><circle cx="1203.55" cy="220.25" r="2.5"/><circle cx="1205.83" cy="219.25" r="2.5"/><circle cx="1212.66" cy="216.50" r="2.5"/><circle cx="1217.22" cy="219.00" r="2.5"/></g>
<path d="M118.79 403.77 L121.07 403.77 L130.18 404.65 L132.46 406.02 L134.74 407.27 L137.02 409.77 L143.85 404.52 L146.13 408.52 L148.41 424.77 L150.69 410.40 L152.97 405.40 L159.81 403.52 L162.09 414.40 L164.36 405.65 L166.64 407.90 L168.92 408.15 L175.76 408.90 L178.04 405.40 L180.32 409.15 L182.60 411.40 L184.88 412.65 L191.71 412.27 L193.99 410.40 L196.27 411.65 L198.55 416.40 L200.83 417.65 L209.94 416.40 L212.22 416.90 L214.50 422.65 L216.78 435.65 L223.62 422.90 L225.90 426.02 L228.17 421.90 L230.45 421.90 L239.57 417.27 L241.85 421.02 L244.13 418.52 L246.41 421.90 L248.68 421.02 L255.52 409.77 L257.80 414.40 L260.08 411.65 L262.36 424.40 L264.64 422.27 L271.47 418.52 L273.75 423.90 L276.03 422.65 L278.31 416.40 L280.59 418.52 L287.43 421.02 L289.70 430.65 L294.26 417.65 L296.54 415.15 L303.38 414.77 L305.66 411.65 L307.94 411.65 L310.22 421.90 L312.49 421.90 L319.33 426.90 L321.61 416.02 L323.89 416.65 L326.17 414.77 L328.45 421.65 L335.28 417.90 L337.56 412.27 L339.84 409.77 L342.12 408.52 L344.40 413.52 L351.24 414.15 L353.51 423.90 L355.79 419.77 L358.07 419.77 L360.35 435.15 L367.19 421.90 L369.47 417.27 L371.75 414.15 L374.02 421.02 L376.30 429.40 L385.42 417.65 L387.70 419.40 L389.98 415.40 L401.37 412.27 L403.65 416.65 L405.93 416.65 L408.21 425.65 L415.04 421.90 L417.32 423.90 L419.60 423.15 L421.88 422.27 L424.16 415.65 L431.00 419.77 L433.28 418.52 L435.56 420.65 L437.83 419.77 L440.11 419.77 L446.95 414.77 L449.23 413.15 L451.51 414.77 L453.79 421.40 L456.07 420.40 L462.90 414.77 L465.18 417.90 L467.46 416.02 L469.74 414.15 L472.02 414.15 L478.85 417.27 L481.13 411.40 L483.41 411.40 L485.69 418.15 L487.97 422.27 L494.81 417.65 L497.09 409.77 L499.36 407.27 L501.64 412.27 L503.92 412.90 L510.76 414.77 L513.04 416.65 L515.32 413.90 L517.60 413.52 L519.87 410.40 L526.71 406.40 L528.99 412.27 L531.27 413.90 L533.55 407.90 L535.83 410.40 L542.66 409.15 L544.94 412.90 L547.22 412.90 L549.50 411.40 L551.78 413.90 L560.90 407.27 L563.17 413.52 L565.45 418.90 L567.73 415.65 L574.57 417.90 L576.85 414.77 L579.13 424.40 L581.41 439.77 L583.68 436.02 L590.52 420.40 L592.80 424.15 L595.08 443.52 L597.36 449.40 L599.64 452.90 L606.47 502.65 L608.75 503.15 L611.03 540.40 L613.31 499.15 L615.59 487.27 L624.70 453.52 L626.98 469.40 L629.26 439.77 L631.54 439.77 L638.38 444.15 L640.66 438.52 L642.94 436.02 L645.21 430.40 L647.49 433.15 L654.33 429.77 L656.61 426.40 L658.89 427.90 L661.17 430.40 L663.45 426.40 L670.28 427.90 L672.56 423.15 L674.84 438.52 L677.12 436.02 L679.40 429.15 L686.24 446.65 L688.51 429.15 L690.79 429.40 L693.07 433.15 L695.35 430.65 L704.47 425.65 L706.75 426.40 L709.02 430.65 L711.30 429.40 L720.42 420.40 L722.70 421.65 L724.98 422.27 L727.26 440.65 L734.09 449.40 L736.37 430.40 L738.65 428.52 L740.93 425.40 L743.21 419.40 L750.04 421.02 L752.32 423.90 L754.60 421.65 L756.88 422.65 L759.16 422.90 L768.28 422.90 L770.55 423.90 L772.83 420.15 L775.11 415.65 L781.95 421.02 L784.23 427.90 L786.51 427.65 L788.79 424.77 L791.07 422.65 L797.90 434.77 L800.18 424.15 L802.46 423.52 L804.74 436.90 L807.02 423.52 L816.13 412.65 L818.41 445.15 L820.69 427.65 L822.97 429.77 L829.81 420.65 L832.09 420.65 L834.36 422.27 L836.64 424.77 L838.92 420.15 L845.76 425.15 L848.04 425.40 L850.32 427.27 L852.60 417.27 L854.87 420.15 L861.71 426.65 L863.99 429.40 L866.27 424.77 L868.55 427.27 L870.83 432.65 L877.66 429.77 L879.94 422.90 L882.22 426.02 L884.50 423.52 L886.78 418.52 L893.62 419.90 L895.89 421.15 L898.17 424.65 L900.45 423.40 L902.73 427.15 L909.57 421.77 L911.85 423.40 L914.13 423.90 L916.41 430.52 L918.68 423.40 L925.52 423.65 L927.80 425.52 L930.08 424.27 L932.36 428.02 L934.64 429.90 L941.47 429.65 L957.43 424.65 L959.70 425.52 L961.98 422.40 L964.26 426.15 L966.54 428.90 L975.66 430.90 L977.94 428.65 L980.21 425.52 L982.49 425.52 L989.33 419.65 L991.61 422.15 L993.89 420.90 L996.17 419.65 L998.45 428.90 L1005.28 420.52 L1007.56 419.65 L1009.84 418.02 L1012.12 422.15 L1014.40 419.90 L1021.23 432.40 L1023.51 423.02 L1025.79 426.15 L1028.07 423.40 L1030.35 427.40 L1037.19 424.27 L1041.75 425.52 L1044.02 427.40 L1046.30 428.40 L1053.14 422.40 L1055.42 419.65 L1057.70 423.02 L1059.98 423.90 L1062.26 421.77 L1071.37 423.40 L1073.65 423.02 L1075.93 417.40 L1078.21 438.02 L1085.04 422.40 L1087.32 424.65 L1089.60 422.40 L1091.88 420.52 L1094.16 430.52 L1101.00 421.77 L1103.28 428.90 L1105.55 425.52 L1107.83 423.90 L1110.11 422.65 L1116.95 419.65 L1119.23 419.65 L1121.51 425.52 L1126.06 422.65 L1132.90 417.40 L1135.18 421.40 L1137.46 416.40 L1139.74 421.77 L1142.02 426.77 L1148.85 430.52 L1151.13 431.77 L1153.41 426.77 L1155.69 448.02 L1157.97 455.65 L1164.81 488.90 L1167.09 459.77 L1169.36 485.40 L1171.64 457.27 L1173.92 461.40 L1180.76 446.15 L1183.04 439.27 L1185.32 433.02 L1187.60 428.02 L1189.87 423.40 L1196.71 424.65 L1198.99 418.65 L1201.27 418.65 L1203.55 422.15 L1205.83 424.65 L1212.66 426.40 L1217.22 421.77" fill="none" stroke="#003d52" stroke-width="1.9" stroke-linejoin="round" stroke-linecap="round"/>
<g fill="#003d52"><circle cx="118.79" cy="403.77" r="2.5"/><circle cx="121.07" cy="403.77" r="2.5"/><circle cx="130.18" cy="404.65" r="2.5"/><circle cx="132.46" cy="406.02" r="2.5"/><circle cx="134.74" cy="407.27" r="2.5"/><circle cx="137.02" cy="409.77" r="2.5"/><circle cx="143.85" cy="404.52" r="2.5"/><circle cx="146.13" cy="408.52" r="2.5"/><circle cx="148.41" cy="424.77" r="2.5"/><circle cx="150.69" cy="410.40" r="2.5"/><circle cx="152.97" cy="405.40" r="2.5"/><circle cx="159.81" cy="403.52" r="2.5"/><circle cx="162.09" cy="414.40" r="2.5"/><circle cx="164.36" cy="405.65" r="2.5"/><circle cx="166.64" cy="407.90" r="2.5"/><circle cx="168.92" cy="408.15" r="2.5"/><circle cx="175.76" cy="408.90" r="2.5"/><circle cx="178.04" cy="405.40" r="2.5"/><circle cx="180.32" cy="409.15" r="2.5"/><circle cx="182.60" cy="411.40" r="2.5"/><circle cx="184.88" cy="412.65" r="2.5"/><circle cx="191.71" cy="412.27" r="2.5"/><circle cx="193.99" cy="410.40" r="2.5"/><circle cx="196.27" cy="411.65" r="2.5"/><circle cx="198.55" cy="416.40" r="2.5"/><circle cx="200.83" cy="417.65" r="2.5"/><circle cx="209.94" cy="416.40" r="2.5"/><circle cx="212.22" cy="416.90" r="2.5"/><circle cx="214.50" cy="422.65" r="2.5"/><circle cx="216.78" cy="435.65" r="2.5"/><circle cx="223.62" cy="422.90" r="2.5"/><circle cx="225.90" cy="426.02" r="2.5"/><circle cx="228.17" cy="421.90" r="2.5"/><circle cx="230.45" cy="421.90" r="2.5"/><circle cx="239.57" cy="417.27" r="2.5"/><circle cx="241.85" cy="421.02" r="2.5"/><circle cx="244.13" cy="418.52" r="2.5"/><circle cx="246.41" cy="421.90" r="2.5"/><circle cx="248.68" cy="421.02" r="2.5"/><circle cx="255.52" cy="409.77" r="2.5"/><circle cx="257.80" cy="414.40" r="2.5"/><circle cx="260.08" cy="411.65" r="2.5"/><circle cx="262.36" cy="424.40" r="2.5"/><circle cx="264.64" cy="422.27" r="2.5"/><circle cx="271.47" cy="418.52" r="2.5"/><circle cx="273.75" cy="423.90" r="2.5"/><circle cx="276.03" cy="422.65" r="2.5"/><circle cx="278.31" cy="416.40" r="2.5"/><circle cx="280.59" cy="418.52" r="2.5"/><circle cx="287.43" cy="421.02" r="2.5"/><circle cx="289.70" cy="430.65" r="2.5"/><circle cx="294.26" cy="417.65" r="2.5"/><circle cx="296.54" cy="415.15" r="2.5"/><circle cx="303.38" cy="414.77" r="2.5"/><circle cx="305.66" cy="411.65" r="2.5"/><circle cx="307.94" cy="411.65" r="2.5"/><circle cx="310.22" cy="421.90" r="2.5"/><circle cx="312.49" cy="421.90" r="2.5"/><circle cx="319.33" cy="426.90" r="2.5"/><circle cx="321.61" cy="416.02" r="2.5"/><circle cx="323.89" cy="416.65" r="2.5"/><circle cx="326.17" cy="414.77" r="2.5"/><circle cx="328.45" cy="421.65" r="2.5"/><circle cx="335.28" cy="417.90" r="2.5"/><circle cx="337.56" cy="412.27" r="2.5"/><circle cx="339.84" cy="409.77" r="2.5"/><circle cx="342.12" cy="408.52" r="2.5"/><circle cx="344.40" cy="413.52" r="2.5"/><circle cx="351.24" cy="414.15" r="2.5"/><circle cx="353.51" cy="423.90" r="2.5"/><circle cx="355.79" cy="419.77" r="2.5"/><circle cx="358.07" cy="419.77" r="2.5"/><circle cx="360.35" cy="435.15" r="2.5"/><circle cx="367.19" cy="421.90" r="2.5"/><circle cx="369.47" cy="417.27" r="2.5"/><circle cx="371.75" cy="414.15" r="2.5"/><circle cx="374.02" cy="421.02" r="2.5"/><circle cx="376.30" cy="429.40" r="2.5"/><circle cx="385.42" cy="417.65" r="2.5"/><circle cx="387.70" cy="419.40" r="2.5"/><circle cx="389.98" cy="415.40" r="2.5"/><circle cx="401.37" cy="412.27" r="2.5"/><circle cx="403.65" cy="416.65" r="2.5"/><circle cx="405.93" cy="416.65" r="2.5"/><circle cx="408.21" cy="425.65" r="2.5"/><circle cx="415.04" cy="421.90" r="2.5"/><circle cx="417.32" cy="423.90" r="2.5"/><circle cx="419.60" cy="423.15" r="2.5"/><circle cx="421.88" cy="422.27" r="2.5"/><circle cx="424.16" cy="415.65" r="2.5"/><circle cx="431.00" cy="419.77" r="2.5"/><circle cx="433.28" cy="418.52" r="2.5"/><circle cx="435.56" cy="420.65" r="2.5"/><circle cx="437.83" cy="419.77" r="2.5"/><circle cx="440.11" cy="419.77" r="2.5"/><circle cx="446.95" cy="414.77" r="2.5"/><circle cx="449.23" cy="413.15" r="2.5"/><circle cx="451.51" cy="414.77" r="2.5"/><circle cx="453.79" cy="421.40" r="2.5"/><circle cx="456.07" cy="420.40" r="2.5"/><circle cx="462.90" cy="414.77" r="2.5"/><circle cx="465.18" cy="417.90" r="2.5"/><circle cx="467.46" cy="416.02" r="2.5"/><circle cx="469.74" cy="414.15" r="2.5"/><circle cx="472.02" cy="414.15" r="2.5"/><circle cx="478.85" cy="417.27" r="2.5"/><circle cx="481.13" cy="411.40" r="2.5"/><circle cx="483.41" cy="411.40" r="2.5"/><circle cx="485.69" cy="418.15" r="2.5"/><circle cx="487.97" cy="422.27" r="2.5"/><circle cx="494.81" cy="417.65" r="2.5"/><circle cx="497.09" cy="409.77" r="2.5"/><circle cx="499.36" cy="407.27" r="2.5"/><circle cx="501.64" cy="412.27" r="2.5"/><circle cx="503.92" cy="412.90" r="2.5"/><circle cx="510.76" cy="414.77" r="2.5"/><circle cx="513.04" cy="416.65" r="2.5"/><circle cx="515.32" cy="413.90" r="2.5"/><circle cx="517.60" cy="413.52" r="2.5"/><circle cx="519.87" cy="410.40" r="2.5"/><circle cx="526.71" cy="406.40" r="2.5"/><circle cx="528.99" cy="412.27" r="2.5"/><circle cx="531.27" cy="413.90" r="2.5"/><circle cx="533.55" cy="407.90" r="2.5"/><circle cx="535.83" cy="410.40" r="2.5"/><circle cx="542.66" cy="409.15" r="2.5"/><circle cx="544.94" cy="412.90" r="2.5"/><circle cx="547.22" cy="412.90" r="2.5"/><circle cx="549.50" cy="411.40" r="2.5"/><circle cx="551.78" cy="413.90" r="2.5"/><circle cx="560.90" cy="407.27" r="2.5"/><circle cx="563.17" cy="413.52" r="2.5"/><circle cx="565.45" cy="418.90" r="2.5"/><circle cx="567.73" cy="415.65" r="2.5"/><circle cx="574.57" cy="417.90" r="2.5"/><circle cx="576.85" cy="414.77" r="2.5"/><circle cx="579.13" cy="424.40" r="2.5"/><circle cx="581.41" cy="439.77" r="2.5"/><circle cx="583.68" cy="436.02" r="2.5"/><circle cx="590.52" cy="420.40" r="2.5"/><circle cx="592.80" cy="424.15" r="2.5"/><circle cx="595.08" cy="443.52" r="2.5"/><circle cx="597.36" cy="449.40" r="2.5"/><circle cx="599.64" cy="452.90" r="2.5"/><circle cx="606.47" cy="502.65" r="2.5"/><circle cx="608.75" cy="503.15" r="2.5"/><circle cx="611.03" cy="540.40" r="2.5"/><circle cx="613.31" cy="499.15" r="2.5"/><circle cx="615.59" cy="487.27" r="2.5"/><circle cx="624.70" cy="453.52" r="2.5"/><circle cx="626.98" cy="469.40" r="2.5"/><circle cx="629.26" cy="439.77" r="2.5"/><circle cx="631.54" cy="439.77" r="2.5"/><circle cx="638.38" cy="444.15" r="2.5"/><circle cx="640.66" cy="438.52" r="2.5"/><circle cx="642.94" cy="436.02" r="2.5"/><circle cx="645.21" cy="430.40" r="2.5"/><circle cx="647.49" cy="433.15" r="2.5"/><circle cx="654.33" cy="429.77" r="2.5"/><circle cx="656.61" cy="426.40" r="2.5"/><circle cx="658.89" cy="427.90" r="2.5"/><circle cx="661.17" cy="430.40" r="2.5"/><circle cx="663.45" cy="426.40" r="2.5"/><circle cx="670.28" cy="427.90" r="2.5"/><circle cx="672.56" cy="423.15" r="2.5"/><circle cx="674.84" cy="438.52" r="2.5"/><circle cx="677.12" cy="436.02" r="2.5"/><circle cx="679.40" cy="429.15" r="2.5"/><circle cx="686.24" cy="446.65" r="2.5"/><circle cx="688.51" cy="429.15" r="2.5"/><circle cx="690.79" cy="429.40" r="2.5"/><circle cx="693.07" cy="433.15" r="2.5"/><circle cx="695.35" cy="430.65" r="2.5"/><circle cx="704.47" cy="425.65" r="2.5"/><circle cx="706.75" cy="426.40" r="2.5"/><circle cx="709.02" cy="430.65" r="2.5"/><circle cx="711.30" cy="429.40" r="2.5"/><circle cx="720.42" cy="420.40" r="2.5"/><circle cx="722.70" cy="421.65" r="2.5"/><circle cx="724.98" cy="422.27" r="2.5"/><circle cx="727.26" cy="440.65" r="2.5"/><circle cx="734.09" cy="449.40" r="2.5"/><circle cx="736.37" cy="430.40" r="2.5"/><circle cx="738.65" cy="428.52" r="2.5"/><circle cx="740.93" cy="425.40" r="2.5"/><circle cx="743.21" cy="419.40" r="2.5"/><circle cx="750.04" cy="421.02" r="2.5"/><circle cx="752.32" cy="423.90" r="2.5"/><circle cx="754.60" cy="421.65" r="2.5"/><circle cx="756.88" cy="422.65" r="2.5"/><circle cx="759.16" cy="422.90" r="2.5"/><circle cx="768.28" cy="422.90" r="2.5"/><circle cx="770.55" cy="423.90" r="2.5"/><circle cx="772.83" cy="420.15" r="2.5"/><circle cx="775.11" cy="415.65" r="2.5"/><circle cx="781.95" cy="421.02" r="2.5"/><circle cx="784.23" cy="427.90" r="2.5"/><circle cx="786.51" cy="427.65" r="2.5"/><circle cx="788.79" cy="424.77" r="2.5"/><circle cx="791.07" cy="422.65" r="2.5"/><circle cx="797.90" cy="434.77" r="2.5"/><circle cx="800.18" cy="424.15" r="2.5"/><circle cx="802.46" cy="423.52" r="2.5"/><circle cx="804.74" cy="436.90" r="2.5"/><circle cx="807.02" cy="423.52" r="2.5"/><circle cx="816.13" cy="412.65" r="2.5"/><circle cx="818.41" cy="445.15" r="2.5"/><circle cx="820.69" cy="427.65" r="2.5"/><circle cx="822.97" cy="429.77" r="2.5"/><circle cx="829.81" cy="420.65" r="2.5"/><circle cx="832.09" cy="420.65" r="2.5"/><circle cx="834.36" cy="422.27" r="2.5"/><circle cx="836.64" cy="424.77" r="2.5"/><circle cx="838.92" cy="420.15" r="2.5"/><circle cx="845.76" cy="425.15" r="2.5"/><circle cx="848.04" cy="425.40" r="2.5"/><circle cx="850.32" cy="427.27" r="2.5"/><circle cx="852.60" cy="417.27" r="2.5"/><circle cx="854.87" cy="420.15" r="2.5"/><circle cx="861.71" cy="426.65" r="2.5"/><circle cx="863.99" cy="429.40" r="2.5"/><circle cx="866.27" cy="424.77" r="2.5"/><circle cx="868.55" cy="427.27" r="2.5"/><circle cx="870.83" cy="432.65" r="2.5"/><circle cx="877.66" cy="429.77" r="2.5"/><circle cx="879.94" cy="422.90" r="2.5"/><circle cx="882.22" cy="426.02" r="2.5"/><circle cx="884.50" cy="423.52" r="2.5"/><circle cx="886.78" cy="418.52" r="2.5"/><circle cx="893.62" cy="419.90" r="2.5"/><circle cx="895.89" cy="421.15" r="2.5"/><circle cx="898.17" cy="424.65" r="2.5"/><circle cx="900.45" cy="423.40" r="2.5"/><circle cx="902.73" cy="427.15" r="2.5"/><circle cx="909.57" cy="421.77" r="2.5"/><circle cx="911.85" cy="423.40" r="2.5"/><circle cx="914.13" cy="423.90" r="2.5"/><circle cx="916.41" cy="430.52" r="2.5"/><circle cx="918.68" cy="423.40" r="2.5"/><circle cx="925.52" cy="423.65" r="2.5"/><circle cx="927.80" cy="425.52" r="2.5"/><circle cx="930.08" cy="424.27" r="2.5"/><circle cx="932.36" cy="428.02" r="2.5"/><circle cx="934.64" cy="429.90" r="2.5"/><circle cx="941.47" cy="429.65" r="2.5"/><circle cx="957.43" cy="424.65" r="2.5"/><circle cx="959.70" cy="425.52" r="2.5"/><circle cx="961.98" cy="422.40" r="2.5"/><circle cx="964.26" cy="426.15" r="2.5"/><circle cx="966.54" cy="428.90" r="2.5"/><circle cx="975.66" cy="430.90" r="2.5"/><circle cx="977.94" cy="428.65" r="2.5"/><circle cx="980.21" cy="425.52" r="2.5"/><circle cx="982.49" cy="425.52" r="2.5"/><circle cx="989.33" cy="419.65" r="2.5"/><circle cx="991.61" cy="422.15" r="2.5"/><circle cx="993.89" cy="420.90" r="2.5"/><circle cx="996.17" cy="419.65" r="2.5"/><circle cx="998.45" cy="428.90" r="2.5"/><circle cx="1005.28" cy="420.52" r="2.5"/><circle cx="1007.56" cy="419.65" r="2.5"/><circle cx="1009.84" cy="418.02" r="2.5"/><circle cx="1012.12" cy="422.15" r="2.5"/><circle cx="1014.40" cy="419.90" r="2.5"/><circle cx="1021.23" cy="432.40" r="2.5"/><circle cx="1023.51" cy="423.02" r="2.5"/><circle cx="1025.79" cy="426.15" r="2.5"/><circle cx="1028.07" cy="423.40" r="2.5"/><circle cx="1030.35" cy="427.40" r="2.5"/><circle cx="1037.19" cy="424.27" r="2.5"/><circle cx="1041.75" cy="425.52" r="2.5"/><circle cx="1044.02" cy="427.40" r="2.5"/><circle cx="1046.30" cy="428.40" r="2.5"/><circle cx="1053.14" cy="422.40" r="2.5"/><circle cx="1055.42" cy="419.65" r="2.5"/><circle cx="1057.70" cy="423.02" r="2.5"/><circle cx="1059.98" cy="423.90" r="2.5"/><circle cx="1062.26" cy="421.77" r="2.5"/><circle cx="1071.37" cy="423.40" r="2.5"/><circle cx="1073.65" cy="423.02" r="2.5"/><circle cx="1075.93" cy="417.40" r="2.5"/><circle cx="1078.21" cy="438.02" r="2.5"/><circle cx="1085.04" cy="422.40" r="2.5"/><circle cx="1087.32" cy="424.65" r="2.5"/><circle cx="1089.60" cy="422.40" r="2.5"/><circle cx="1091.88" cy="420.52" r="2.5"/><circle cx="1094.16" cy="430.52" r="2.5"/><circle cx="1101.00" cy="421.77" r="2.5"/><circle cx="1103.28" cy="428.90" r="2.5"/><circle cx="1105.55" cy="425.52" r="2.5"/><circle cx="1107.83" cy="423.90" r="2.5"/><circle cx="1110.11" cy="422.65" r="2.5"/><circle cx="1116.95" cy="419.65" r="2.5"/><circle cx="1119.23" cy="419.65" r="2.5"/><circle cx="1121.51" cy="425.52" r="2.5"/><circle cx="1126.06" cy="422.65" r="2.5"/><circle cx="1132.90" cy="417.40" r="2.5"/><circle cx="1135.18" cy="421.40" r="2.5"/><circle cx="1137.46" cy="416.40" r="2.5"/><circle cx="1139.74" cy="421.77" r="2.5"/><circle cx="1142.02" cy="426.77" r="2.5"/><circle cx="1148.85" cy="430.52" r="2.5"/><circle cx="1151.13" cy="431.77" r="2.5"/><circle cx="1153.41" cy="426.77" r="2.5"/><circle cx="1155.69" cy="448.02" r="2.5"/><circle cx="1157.97" cy="455.65" r="2.5"/><circle cx="1164.81" cy="488.90" r="2.5"/><circle cx="1167.09" cy="459.77" r="2.5"/><circle cx="1169.36" cy="485.40" r="2.5"/><circle cx="1171.64" cy="457.27" r="2.5"/><circle cx="1173.92" cy="461.40" r="2.5"/><circle cx="1180.76" cy="446.15" r="2.5"/><circle cx="1183.04" cy="439.27" r="2.5"/><circle cx="1185.32" cy="433.02" r="2.5"/><circle cx="1187.60" cy="428.02" r="2.5"/><circle cx="1189.87" cy="423.40" r="2.5"/><circle cx="1196.71" cy="424.65" r="2.5"/><circle cx="1198.99" cy="418.65" r="2.5"/><circle cx="1201.27" cy="418.65" r="2.5"/><circle cx="1203.55" cy="422.15" r="2.5"/><circle cx="1205.83" cy="424.65" r="2.5"/><circle cx="1212.66" cy="426.40" r="2.5"/><circle cx="1217.22" cy="421.77" r="2.5"/></g>
<path d="M118.79 387.88 L121.07 387.88 L130.18 388.25 L132.46 389.75 L134.74 391.62 L137.02 393.50 L143.85 386.62 L146.13 391.62 L148.41 407.88 L150.69 393.50 L152.97 390.38 L159.81 387.25 L162.09 396.62 L164.36 388.50 L166.64 391.00 L168.92 391.00 L175.76 392.00 L178.04 389.50 L180.32 393.50 L182.60 395.75 L184.88 397.00 L191.71 398.25 L193.99 395.00 L196.27 395.38 L198.55 399.75 L200.83 400.00 L209.94 398.75 L212.22 397.88 L214.50 403.75 L216.78 415.38 L223.62 402.88 L225.90 403.75 L228.17 398.75 L230.45 403.75 L239.57 394.50 L241.85 402.00 L244.13 400.38 L246.41 399.12 L248.68 396.62 L255.52 386.62 L257.80 388.50 L260.08 387.50 L262.36 400.38 L264.64 396.62 L271.47 394.12 L273.75 399.50 L276.03 397.88 L278.31 393.50 L280.59 393.75 L287.43 397.25 L289.70 407.88 L294.26 396.62 L296.54 393.75 L303.38 392.25 L305.66 389.12 L307.94 390.38 L310.22 397.88 L312.49 400.38 L319.33 404.50 L321.61 394.50 L323.89 395.00 L326.17 392.88 L328.45 400.38 L335.28 396.00 L337.56 390.00 L339.84 387.88 L342.12 385.75 L344.40 392.25 L351.24 390.75 L353.51 401.00 L355.79 397.88 L358.07 396.00 L360.35 410.38 L367.19 397.88 L369.47 394.12 L371.75 390.75 L374.02 397.88 L376.30 407.00 L385.42 396.62 L387.70 395.38 L389.98 390.38 L401.37 389.12 L403.65 392.50 L405.93 394.12 L408.21 400.38 L415.04 396.62 L417.32 399.50 L419.60 398.25 L421.88 397.25 L424.16 390.38 L431.00 393.75 L433.28 396.00 L435.56 392.88 L437.83 392.00 L440.11 392.25 L446.95 387.50 L449.23 387.50 L451.51 389.12 L453.79 394.12 L456.07 393.75 L462.90 389.75 L465.18 391.62 L467.46 389.75 L469.74 388.50 L472.02 387.88 L478.85 389.75 L481.13 386.62 L483.41 384.50 L485.69 391.00 L487.97 393.50 L494.81 385.38 L497.09 378.50 L499.36 377.50 L501.64 379.12 L503.92 379.12 L510.76 384.75 L513.04 383.25 L515.32 387.50 L517.60 381.00 L519.87 381.00 L526.71 377.50 L528.99 381.62 L531.27 384.75 L533.55 379.50 L535.83 383.50 L542.66 385.00 L544.94 388.25 L547.22 386.62 L549.50 389.75 L551.78 389.50 L560.90 384.12 L563.17 388.50 L565.45 393.25 L567.73 390.00 L574.57 392.00 L576.85 389.75 L579.13 399.12 L581.41 412.00 L583.68 407.25 L590.52 394.50 L592.80 399.12 L595.08 417.88 L597.36 420.38 L599.64 426.62 L606.47 478.50 L608.75 476.62 L611.03 501.25 L613.31 462.00 L615.59 452.50 L624.70 422.25 L626.98 439.12 L629.26 410.38 L631.54 411.00 L638.38 414.12 L640.66 410.38 L642.94 407.25 L645.21 402.00 L647.49 405.38 L654.33 401.62 L656.61 397.88 L658.89 399.12 L661.17 401.62 L663.45 398.75 L670.28 400.00 L672.56 396.62 L674.84 408.50 L677.12 406.62 L679.40 402.25 L686.24 414.12 L688.51 400.75 L690.79 401.62 L693.07 406.25 L695.35 401.62 L704.47 400.75 L706.75 401.00 L709.02 404.50 L711.30 402.88 L720.42 392.88 L722.70 393.25 L724.98 394.12 L727.26 412.88 L734.09 418.25 L736.37 399.75 L738.65 398.50 L740.93 397.88 L743.21 391.25 L750.04 394.75 L752.32 394.50 L754.60 395.00 L756.88 396.25 L759.16 394.75 L768.28 395.00 L770.55 394.12 L772.83 390.38 L775.11 388.25 L781.95 392.50 L784.23 397.50 L786.51 395.75 L788.79 394.50 L791.07 394.12 L797.90 399.12 L800.18 391.62 L802.46 391.62 L804.74 404.50 L807.02 391.62 L816.13 391.25 L818.41 411.00 L820.69 398.50 L822.97 404.50 L829.81 395.75 L832.09 394.50 L834.36 394.12 L836.64 397.00 L838.92 391.62 L845.76 394.50 L848.04 395.00 L850.32 398.50 L852.60 390.38 L854.87 391.62 L861.71 395.75 L863.99 398.50 L866.27 393.75 L868.55 395.38 L870.83 399.12 L877.66 399.12 L879.94 392.00 L882.22 392.50 L884.50 390.38 L886.78 387.25 L893.62 388.62 L895.89 388.62 L898.17 392.75 L900.45 394.00 L902.73 394.88 L909.57 391.75 L911.85 393.62 L914.13 392.75 L916.41 396.75 L918.68 391.75 L925.52 393.00 L927.80 392.00 L930.08 393.25 L932.36 392.00 L934.64 394.00 L941.47 393.62 L957.43 394.00 L959.70 396.12 L961.98 391.50 L964.26 394.88 L966.54 396.75 L975.66 399.50 L977.94 397.38 L980.21 393.62 L982.49 393.62 L989.33 390.25 L991.61 390.25 L993.89 386.50 L996.17 384.88 L998.45 396.12 L1005.28 390.25 L1007.56 386.75 L1009.84 387.38 L1012.12 386.12 L1014.40 387.75 L1021.23 400.25 L1023.51 392.75 L1025.79 394.00 L1028.07 391.75 L1030.35 394.50 L1037.19 391.75 L1041.75 396.75 L1044.02 400.25 L1046.30 398.00 L1053.14 394.00 L1055.42 390.75 L1057.70 394.00 L1059.98 395.75 L1062.26 395.25 L1071.37 396.50 L1073.65 394.88 L1075.93 392.00 L1078.21 409.25 L1085.04 396.75 L1087.32 400.75 L1089.60 394.88 L1091.88 394.00 L1094.16 399.88 L1101.00 394.00 L1103.28 401.50 L1105.55 398.62 L1107.83 396.12 L1110.11 394.88 L1116.95 394.25 L1119.23 394.88 L1121.51 399.88 L1126.06 395.50 L1132.90 391.50 L1135.18 395.50 L1137.46 393.25 L1139.74 396.50 L1142.02 399.88 L1148.85 401.75 L1151.13 398.62 L1153.41 397.75 L1155.69 415.25 L1157.97 425.50 L1164.81 455.75 L1167.09 425.50 L1169.36 442.38 L1171.64 420.50 L1173.92 421.12 L1180.76 411.12 L1183.04 405.75 L1185.32 401.50 L1187.60 396.75 L1189.87 393.25 L1196.71 394.00 L1198.99 390.25 L1201.27 392.75 L1203.55 394.88 L1205.83 396.12 L1212.66 394.88 L1217.22 393.00" fill="none" stroke="#f8ad3d" stroke-width="1.9" stroke-linejoin="round" stroke-linecap="round"/>
<g fill="#f8ad3d"><circle cx="118.79" cy="387.88" r="2.5"/><circle cx="121.07" cy="387.88" r="2.5"/><circle cx="130.18" cy="388.25" r="2.5"/><circle cx="132.46" cy="389.75" r="2.5"/><circle cx="134.74" cy="391.62" r="2.5"/><circle cx="137.02" cy="393.50" r="2.5"/><circle cx="143.85" cy="386.62" r="2.5"/><circle cx="146.13" cy="391.62" r="2.5"/><circle cx="148.41" cy="407.88" r="2.5"/><circle cx="150.69" cy="393.50" r="2.5"/><circle cx="152.97" cy="390.38" r="2.5"/><circle cx="159.81" cy="387.25" r="2.5"/><circle cx="162.09" cy="396.62" r="2.5"/><circle cx="164.36" cy="388.50" r="2.5"/><circle cx="166.64" cy="391.00" r="2.5"/><circle cx="168.92" cy="391.00" r="2.5"/><circle cx="175.76" cy="392.00" r="2.5"/><circle cx="178.04" cy="389.50" r="2.5"/><circle cx="180.32" cy="393.50" r="2.5"/><circle cx="182.60" cy="395.75" r="2.5"/><circle cx="184.88" cy="397.00" r="2.5"/><circle cx="191.71" cy="398.25" r="2.5"/><circle cx="193.99" cy="395.00" r="2.5"/><circle cx="196.27" cy="395.38" r="2.5"/><circle cx="198.55" cy="399.75" r="2.5"/><circle cx="200.83" cy="400.00" r="2.5"/><circle cx="209.94" cy="398.75" r="2.5"/><circle cx="212.22" cy="397.88" r="2.5"/><circle cx="214.50" cy="403.75" r="2.5"/><circle cx="216.78" cy="415.38" r="2.5"/><circle cx="223.62" cy="402.88" r="2.5"/><circle cx="225.90" cy="403.75" r="2.5"/><circle cx="228.17" cy="398.75" r="2.5"/><circle cx="230.45" cy="403.75" r="2.5"/><circle cx="239.57" cy="394.50" r="2.5"/><circle cx="241.85" cy="402.00" r="2.5"/><circle cx="244.13" cy="400.38" r="2.5"/><circle cx="246.41" cy="399.12" r="2.5"/><circle cx="248.68" cy="396.62" r="2.5"/><circle cx="255.52" cy="386.62" r="2.5"/><circle cx="257.80" cy="388.50" r="2.5"/><circle cx="260.08" cy="387.50" r="2.5"/><circle cx="262.36" cy="400.38" r="2.5"/><circle cx="264.64" cy="396.62" r="2.5"/><circle cx="271.47" cy="394.12" r="2.5"/><circle cx="273.75" cy="399.50" r="2.5"/><circle cx="276.03" cy="397.88" r="2.5"/><circle cx="278.31" cy="393.50" r="2.5"/><circle cx="280.59" cy="393.75" r="2.5"/><circle cx="287.43" cy="397.25" r="2.5"/><circle cx="289.70" cy="407.88" r="2.5"/><circle cx="294.26" cy="396.62" r="2.5"/><circle cx="296.54" cy="393.75" r="2.5"/><circle cx="303.38" cy="392.25" r="2.5"/><circle cx="305.66" cy="389.12" r="2.5"/><circle cx="307.94" cy="390.38" r="2.5"/><circle cx="310.22" cy="397.88" r="2.5"/><circle cx="312.49" cy="400.38" r="2.5"/><circle cx="319.33" cy="404.50" r="2.5"/><circle cx="321.61" cy="394.50" r="2.5"/><circle cx="323.89" cy="395.00" r="2.5"/><circle cx="326.17" cy="392.88" r="2.5"/><circle cx="328.45" cy="400.38" r="2.5"/><circle cx="335.28" cy="396.00" r="2.5"/><circle cx="337.56" cy="390.00" r="2.5"/><circle cx="339.84" cy="387.88" r="2.5"/><circle cx="342.12" cy="385.75" r="2.5"/><circle cx="344.40" cy="392.25" r="2.5"/><circle cx="351.24" cy="390.75" r="2.5"/><circle cx="353.51" cy="401.00" r="2.5"/><circle cx="355.79" cy="397.88" r="2.5"/><circle cx="358.07" cy="396.00" r="2.5"/><circle cx="360.35" cy="410.38" r="2.5"/><circle cx="367.19" cy="397.88" r="2.5"/><circle cx="369.47" cy="394.12" r="2.5"/><circle cx="371.75" cy="390.75" r="2.5"/><circle cx="374.02" cy="397.88" r="2.5"/><circle cx="376.30" cy="407.00" r="2.5"/><circle cx="385.42" cy="396.62" r="2.5"/><circle cx="387.70" cy="395.38" r="2.5"/><circle cx="389.98" cy="390.38" r="2.5"/><circle cx="401.37" cy="389.12" r="2.5"/><circle cx="403.65" cy="392.50" r="2.5"/><circle cx="405.93" cy="394.12" r="2.5"/><circle cx="408.21" cy="400.38" r="2.5"/><circle cx="415.04" cy="396.62" r="2.5"/><circle cx="417.32" cy="399.50" r="2.5"/><circle cx="419.60" cy="398.25" r="2.5"/><circle cx="421.88" cy="397.25" r="2.5"/><circle cx="424.16" cy="390.38" r="2.5"/><circle cx="431.00" cy="393.75" r="2.5"/><circle cx="433.28" cy="396.00" r="2.5"/><circle cx="435.56" cy="392.88" r="2.5"/><circle cx="437.83" cy="392.00" r="2.5"/><circle cx="440.11" cy="392.25" r="2.5"/><circle cx="446.95" cy="387.50" r="2.5"/><circle cx="449.23" cy="387.50" r="2.5"/><circle cx="451.51" cy="389.12" r="2.5"/><circle cx="453.79" cy="394.12" r="2.5"/><circle cx="456.07" cy="393.75" r="2.5"/><circle cx="462.90" cy="389.75" r="2.5"/><circle cx="465.18" cy="391.62" r="2.5"/><circle cx="467.46" cy="389.75" r="2.5"/><circle cx="469.74" cy="388.50" r="2.5"/><circle cx="472.02" cy="387.88" r="2.5"/><circle cx="478.85" cy="389.75" r="2.5"/><circle cx="481.13" cy="386.62" r="2.5"/><circle cx="483.41" cy="384.50" r="2.5"/><circle cx="485.69" cy="391.00" r="2.5"/><circle cx="487.97" cy="393.50" r="2.5"/><circle cx="494.81" cy="385.38" r="2.5"/><circle cx="497.09" cy="378.50" r="2.5"/><circle cx="499.36" cy="377.50" r="2.5"/><circle cx="501.64" cy="379.12" r="2.5"/><circle cx="503.92" cy="379.12" r="2.5"/><circle cx="510.76" cy="384.75" r="2.5"/><circle cx="513.04" cy="383.25" r="2.5"/><circle cx="515.32" cy="387.50" r="2.5"/><circle cx="517.60" cy="381.00" r="2.5"/><circle cx="519.87" cy="381.00" r="2.5"/><circle cx="526.71" cy="377.50" r="2.5"/><circle cx="528.99" cy="381.62" r="2.5"/><circle cx="531.27" cy="384.75" r="2.5"/><circle cx="533.55" cy="379.50" r="2.5"/><circle cx="535.83" cy="383.50" r="2.5"/><circle cx="542.66" cy="385.00" r="2.5"/><circle cx="544.94" cy="388.25" r="2.5"/><circle cx="547.22" cy="386.62" r="2.5"/><circle cx="549.50" cy="389.75" r="2.5"/><circle cx="551.78" cy="389.50" r="2.5"/><circle cx="560.90" cy="384.12" r="2.5"/><circle cx="563.17" cy="388.50" r="2.5"/><circle cx="565.45" cy="393.25" r="2.5"/><circle cx="567.73" cy="390.00" r="2.5"/><circle cx="574.57" cy="392.00" r="2.5"/><circle cx="576.85" cy="389.75" r="2.5"/><circle cx="579.13" cy="399.12" r="2.5"/><circle cx="581.41" cy="412.00" r="2.5"/><circle cx="583.68" cy="407.25" r="2.5"/><circle cx="590.52" cy="394.50" r="2.5"/><circle cx="592.80" cy="399.12" r="2.5"/><circle cx="595.08" cy="417.88" r="2.5"/><circle cx="597.36" cy="420.38" r="2.5"/><circle cx="599.64" cy="426.62" r="2.5"/><circle cx="606.47" cy="478.50" r="2.5"/><circle cx="608.75" cy="476.62" r="2.5"/><circle cx="611.03" cy="501.25" r="2.5"/><circle cx="613.31" cy="462.00" r="2.5"/><circle cx="615.59" cy="452.50" r="2.5"/><circle cx="624.70" cy="422.25" r="2.5"/><circle cx="626.98" cy="439.12" r="2.5"/><circle cx="629.26" cy="410.38" r="2.5"/><circle cx="631.54" cy="411.00" r="2.5"/><circle cx="638.38" cy="414.12" r="2.5"/><circle cx="640.66" cy="410.38" r="2.5"/><circle cx="642.94" cy="407.25" r="2.5"/><circle cx="645.21" cy="402.00" r="2.5"/><circle cx="647.49" cy="405.38" r="2.5"/><circle cx="654.33" cy="401.62" r="2.5"/><circle cx="656.61" cy="397.88" r="2.5"/><circle cx="658.89" cy="399.12" r="2.5"/><circle cx="661.17" cy="401.62" r="2.5"/><circle cx="663.45" cy="398.75" r="2.5"/><circle cx="670.28" cy="400.00" r="2.5"/><circle cx="672.56" cy="396.62" r="2.5"/><circle cx="674.84" cy="408.50" r="2.5"/><circle cx="677.12" cy="406.62" r="2.5"/><circle cx="679.40" cy="402.25" r="2.5"/><circle cx="686.24" cy="414.12" r="2.5"/><circle cx="688.51" cy="400.75" r="2.5"/><circle cx="690.79" cy="401.62" r="2.5"/><circle cx="693.07" cy="406.25" r="2.5"/><circle cx="695.35" cy="401.62" r="2.5"/><circle cx="704.47" cy="400.75" r="2.5"/><circle cx="706.75" cy="401.00" r="2.5"/><circle cx="709.02" cy="404.50" r="2.5"/><circle cx="711.30" cy="402.88" r="2.5"/><circle cx="720.42" cy="392.88" r="2.5"/><circle cx="722.70" cy="393.25" r="2.5"/><circle cx="724.98" cy="394.12" r="2.5"/><circle cx="727.26" cy="412.88" r="2.5"/><circle cx="734.09" cy="418.25" r="2.5"/><circle cx="736.37" cy="399.75" r="2.5"/><circle cx="738.65" cy="398.50" r="2.5"/><circle cx="740.93" cy="397.88" r="2.5"/><circle cx="743.21" cy="391.25" r="2.5"/><circle cx="750.04" cy="394.75" r="2.5"/><circle cx="752.32" cy="394.50" r="2.5"/><circle cx="754.60" cy="395.00" r="2.5"/><circle cx="756.88" cy="396.25" r="2.5"/><circle cx="759.16" cy="394.75" r="2.5"/><circle cx="768.28" cy="395.00" r="2.5"/><circle cx="770.55" cy="394.12" r="2.5"/><circle cx="772.83" cy="390.38" r="2.5"/><circle cx="775.11" cy="388.25" r="2.5"/><circle cx="781.95" cy="392.50" r="2.5"/><circle cx="784.23" cy="397.50" r="2.5"/><circle cx="786.51" cy="395.75" r="2.5"/><circle cx="788.79" cy="394.50" r="2.5"/><circle cx="791.07" cy="394.12" r="2.5"/><circle cx="797.90" cy="399.12" r="2.5"/><circle cx="800.18" cy="391.62" r="2.5"/><circle cx="802.46" cy="391.62" r="2.5"/><circle cx="804.74" cy="404.50" r="2.5"/><circle cx="807.02" cy="391.62" r="2.5"/><circle cx="816.13" cy="391.25" r="2.5"/><circle cx="818.41" cy="411.00" r="2.5"/><circle cx="820.69" cy="398.50" r="2.5"/><circle cx="822.97" cy="404.50" r="2.5"/><circle cx="829.81" cy="395.75" r="2.5"/><circle cx="832.09" cy="394.50" r="2.5"/><circle cx="834.36" cy="394.12" r="2.5"/><circle cx="836.64" cy="397.00" r="2.5"/><circle cx="838.92" cy="391.62" r="2.5"/><circle cx="845.76" cy="394.50" r="2.5"/><circle cx="848.04" cy="395.00" r="2.5"/><circle cx="850.32" cy="398.50" r="2.5"/><circle cx="852.60" cy="390.38" r="2.5"/><circle cx="854.87" cy="391.62" r="2.5"/><circle cx="861.71" cy="395.75" r="2.5"/><circle cx="863.99" cy="398.50" r="2.5"/><circle cx="866.27" cy="393.75" r="2.5"/><circle cx="868.55" cy="395.38" r="2.5"/><circle cx="870.83" cy="399.12" r="2.5"/><circle cx="877.66" cy="399.12" r="2.5"/><circle cx="879.94" cy="392.00" r="2.5"/><circle cx="882.22" cy="392.50" r="2.5"/><circle cx="884.50" cy="390.38" r="2.5"/><circle cx="886.78" cy="387.25" r="2.5"/><circle cx="893.62" cy="388.62" r="2.5"/><circle cx="895.89" cy="388.62" r="2.5"/><circle cx="898.17" cy="392.75" r="2.5"/><circle cx="900.45" cy="394.00" r="2.5"/><circle cx="902.73" cy="394.88" r="2.5"/><circle cx="909.57" cy="391.75" r="2.5"/><circle cx="911.85" cy="393.62" r="2.5"/><circle cx="914.13" cy="392.75" r="2.5"/><circle cx="916.41" cy="396.75" r="2.5"/><circle cx="918.68" cy="391.75" r="2.5"/><circle cx="925.52" cy="393.00" r="2.5"/><circle cx="927.80" cy="392.00" r="2.5"/><circle cx="930.08" cy="393.25" r="2.5"/><circle cx="932.36" cy="392.00" r="2.5"/><circle cx="934.64" cy="394.00" r="2.5"/><circle cx="941.47" cy="393.62" r="2.5"/><circle cx="957.43" cy="394.00" r="2.5"/><circle cx="959.70" cy="396.12" r="2.5"/><circle cx="961.98" cy="391.50" r="2.5"/><circle cx="964.26" cy="394.88" r="2.5"/><circle cx="966.54" cy="396.75" r="2.5"/><circle cx="975.66" cy="399.50" r="2.5"/><circle cx="977.94" cy="397.38" r="2.5"/><circle cx="980.21" cy="393.62" r="2.5"/><circle cx="982.49" cy="393.62" r="2.5"/><circle cx="989.33" cy="390.25" r="2.5"/><circle cx="991.61" cy="390.25" r="2.5"/><circle cx="993.89" cy="386.50" r="2.5"/><circle cx="996.17" cy="384.88" r="2.5"/><circle cx="998.45" cy="396.12" r="2.5"/><circle cx="1005.28" cy="390.25" r="2.5"/><circle cx="1007.56" cy="386.75" r="2.5"/><circle cx="1009.84" cy="387.38" r="2.5"/><circle cx="1012.12" cy="386.12" r="2.5"/><circle cx="1014.40" cy="387.75" r="2.5"/><circle cx="1021.23" cy="400.25" r="2.5"/><circle cx="1023.51" cy="392.75" r="2.5"/><circle cx="1025.79" cy="394.00" r="2.5"/><circle cx="1028.07" cy="391.75" r="2.5"/><circle cx="1030.35" cy="394.50" r="2.5"/><circle cx="1037.19" cy="391.75" r="2.5"/><circle cx="1041.75" cy="396.75" r="2.5"/><circle cx="1044.02" cy="400.25" r="2.5"/><circle cx="1046.30" cy="398.00" r="2.5"/><circle cx="1053.14" cy="394.00" r="2.5"/><circle cx="1055.42" cy="390.75" r="2.5"/><circle cx="1057.70" cy="394.00" r="2.5"/><circle cx="1059.98" cy="395.75" r="2.5"/><circle cx="1062.26" cy="395.25" r="2.5"/><circle cx="1071.37" cy="396.50" r="2.5"/><circle cx="1073.65" cy="394.88" r="2.5"/><circle cx="1075.93" cy="392.00" r="2.5"/><circle cx="1078.21" cy="409.25" r="2.5"/><circle cx="1085.04" cy="396.75" r="2.5"/><circle cx="1087.32" cy="400.75" r="2.5"/><circle cx="1089.60" cy="394.88" r="2.5"/><circle cx="1091.88" cy="394.00" r="2.5"/><circle cx="1094.16" cy="399.88" r="2.5"/><circle cx="1101.00" cy="394.00" r="2.5"/><circle cx="1103.28" cy="401.50" r="2.5"/><circle cx="1105.55" cy="398.62" r="2.5"/><circle cx="1107.83" cy="396.12" r="2.5"/><circle cx="1110.11" cy="394.88" r="2.5"/><circle cx="1116.95" cy="394.25" r="2.5"/><circle cx="1119.23" cy="394.88" r="2.5"/><circle cx="1121.51" cy="399.88" r="2.5"/><circle cx="1126.06" cy="395.50" r="2.5"/><circle cx="1132.90" cy="391.50" r="2.5"/><circle cx="1135.18" cy="395.50" r="2.5"/><circle cx="1137.46" cy="393.25" r="2.5"/><circle cx="1139.74" cy="396.50" r="2.5"/><circle cx="1142.02" cy="399.88" r="2.5"/><circle cx="1148.85" cy="401.75" r="2.5"/><circle cx="1151.13" cy="398.62" r="2.5"/><circle cx="1153.41" cy="397.75" r="2.5"/><circle cx="1155.69" cy="415.25" r="2.5"/><circle cx="1157.97" cy="425.50" r="2.5"/><circle cx="1164.81" cy="455.75" r="2.5"/><circle cx="1167.09" cy="425.50" r="2.5"/><circle cx="1169.36" cy="442.38" r="2.5"/><circle cx="1171.64" cy="420.50" r="2.5"/><circle cx="1173.92" cy="421.12" r="2.5"/><circle cx="1180.76" cy="411.12" r="2.5"/><circle cx="1183.04" cy="405.75" r="2.5"/><circle cx="1185.32" cy="401.50" r="2.5"/><circle cx="1187.60" cy="396.75" r="2.5"/><circle cx="1189.87" cy="393.25" r="2.5"/><circle cx="1196.71" cy="394.00" r="2.5"/><circle cx="1198.99" cy="390.25" r="2.5"/><circle cx="1201.27" cy="392.75" r="2.5"/><circle cx="1203.55" cy="394.88" r="2.5"/><circle cx="1205.83" cy="396.12" r="2.5"/><circle cx="1212.66" cy="394.88" r="2.5"/><circle cx="1217.22" cy="393.00" r="2.5"/></g>
</svg>
<text x="86.91" y="582.00" font-size="12.50" textLength="48.89" lengthAdjust="spacingAndGlyphs">2024-01</text>
<text x="223.64" y="582.00" font-size="12.50" textLength="48.89" lengthAdjust="spacingAndGlyphs">2024-03</text>
<text x="362.66" y="582.00" font-size="12.50" textLength="48.89" lengthAdjust="spacingAndGlyphs">2024-05</text>
<text x="501.67" y="582.00" font-size="12.50" textLength="48.89" lengthAdjust="spacingAndGlyphs">2024-07</text>
<text x="642.96" y="582.00" font-size="12.50" textLength="48.89" lengthAdjust="spacingAndGlyphs">2024-09</text>
<text x="781.97" y="582.00" font-size="12.50" textLength="48.89" lengthAdjust="spacingAndGlyphs">2024-11</text>
<text x="920.99" y="582.00" font-size="12.50" textLength="48.89" lengthAdjust="spacingAndGlyphs">2025-01</text>
<text x="1055.44" y="582.00" font-size="12.50" textLength="48.89" lengthAdjust="spacingAndGlyphs">2025-03</text>
<text x="1194.46" y="582.00" font-size="12.50" textLength="48.89" lengthAdjust="spacingAndGlyphs">2025-05</text>
<text x="38.30" y="58.05" font-size="12.50" textLength="16.10" lengthAdjust="spacingAndGlyphs">+8</text>
<text x="38.30" y="120.65" font-size="12.50" textLength="16.10" lengthAdjust="spacingAndGlyphs">+6</text>
<text x="38.30" y="184.35" font-size="12.50" textLength="16.10" lengthAdjust="spacingAndGlyphs">+4</text>
<text x="38.30" y="247.15" font-size="12.50" textLength="16.10" lengthAdjust="spacingAndGlyphs">+2</text>
<text x="38.30" y="373.55" font-size="12.50" textLength="16.10" lengthAdjust="spacingAndGlyphs">+2</text>
<text x="38.30" y="437.15" font-size="12.50" textLength="16.10" lengthAdjust="spacingAndGlyphs">+4</text>
<text x="38.30" y="499.65" font-size="12.50" textLength="16.10" lengthAdjust="spacingAndGlyphs">+6</text>
<text x="38.30" y="562.65" font-size="12.50" textLength="16.10" lengthAdjust="spacingAndGlyphs">+8</text>
<text x="33.83" y="303.20" font-size="12.50" textLength="20.77" lengthAdjust="spacingAndGlyphs">Mid</text>
<text x="25.55" y="316.90" font-size="12.50" textLength="29.05" lengthAdjust="spacingAndGlyphs">Point</text>
<text x="17.00" y="391.52" font-size="12.50" textLength="172.63" lengthAdjust="spacingAndGlyphs" transform="rotate(-90 17.00 391.52)">Distance from Midpoint (bps)</text>
<text x="526.79" y="20.70" font-size="16.50" textLength="281.01" lengthAdjust="spacingAndGlyphs">Topix500 with Equal Weight Portfolio</text>
<text x="541.53" y="39.30" font-size="16.50" textLength="251.14" lengthAdjust="spacingAndGlyphs">Date: 2024-01-04 to 2025-04-30</text>
<rect x="1169.5" y="285.3" width="96.2" height="39.7" rx="2.6" ry="2.6" fill="#eaeaf2" fill-opacity="0.8" stroke="#d2d2d6" stroke-opacity="0.85" stroke-width="1.1"/>
<line x1="1174.4" y1="294.80" x2="1198.2" y2="294.80" stroke="#003d52" stroke-width="1.9" stroke-linecap="round"/>
<circle cx="1186.6" cy="295.20" r="2.5" fill="#003d52"/>
<text x="1208.40" y="298.90" font-size="12.50" textLength="20.90" lengthAdjust="spacingAndGlyphs">TSE</text>
<line x1="1174.4" y1="312.80" x2="1198.2" y2="312.80" stroke="#f8ad3d" stroke-width="1.9" stroke-linecap="round"/>
<circle cx="1186.6" cy="313.20" r="2.5" fill="#f8ad3d"/>
<text x="1208.40" y="316.90" font-size="12.50" textLength="52.30" lengthAdjust="spacingAndGlyphs">X Market</text>
</svg></body></html>
